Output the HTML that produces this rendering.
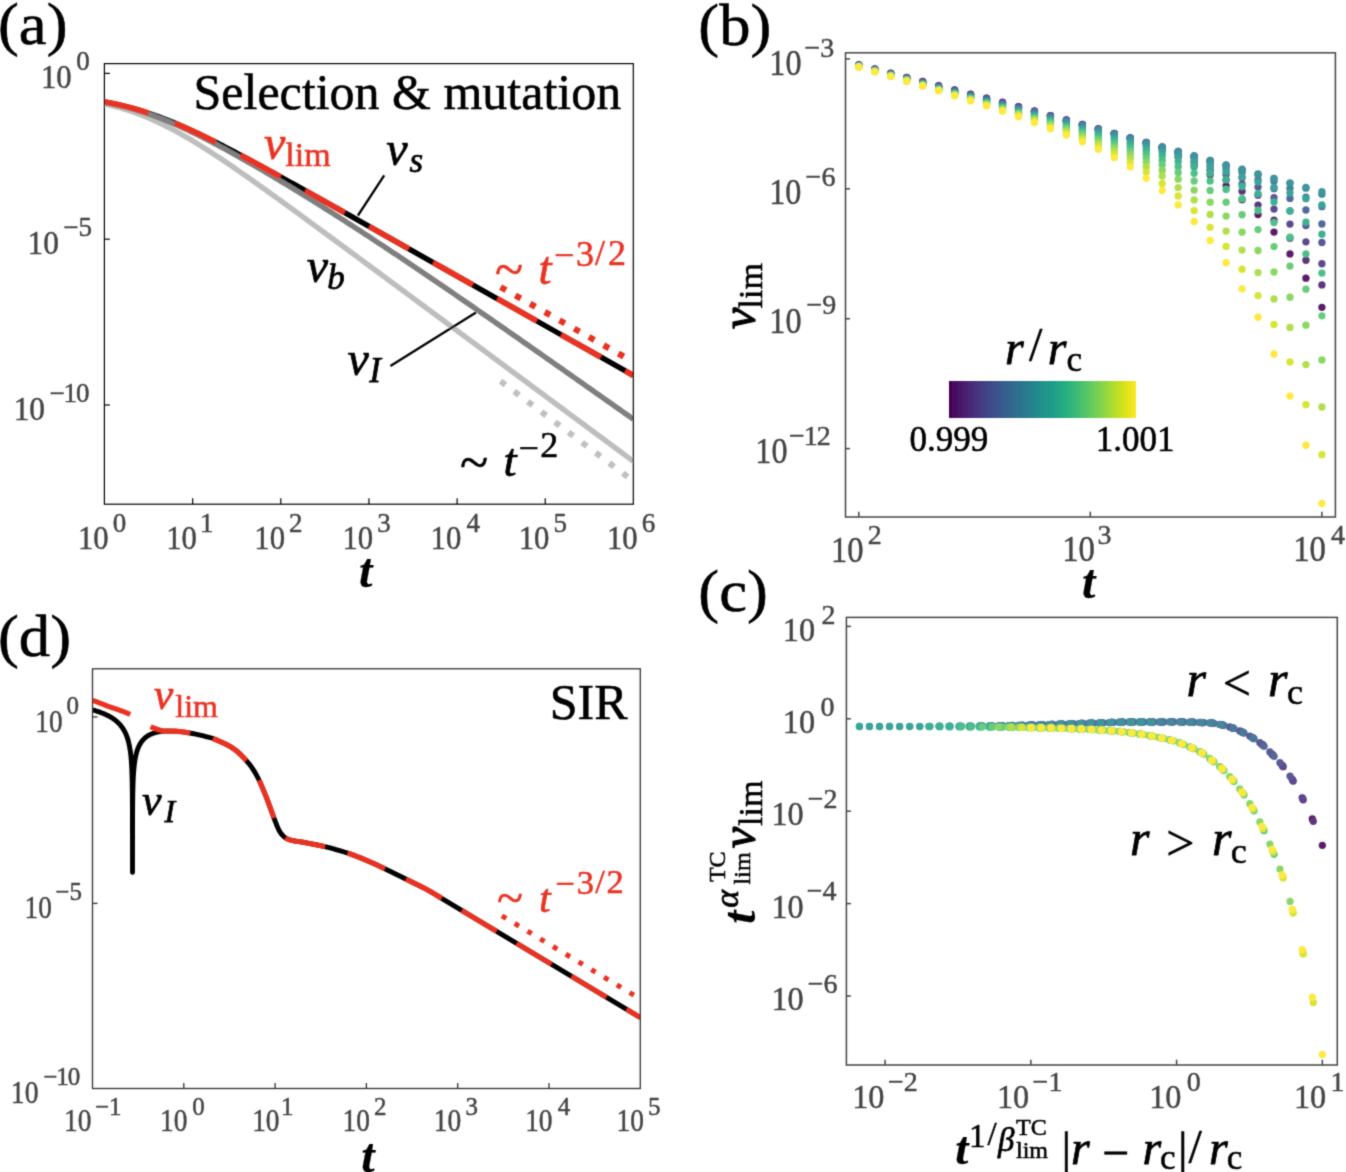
<!DOCTYPE html>
<html><head><meta charset="utf-8"><title>Figure</title>
<style>html,body{margin:0;padding:0;background:#fff;} svg{display:block;will-change:transform;} text{font-family:"Liberation Serif",serif;}</style>
</head><body>
<svg width="1346" height="1172" viewBox="0 0 1346 1172">
<defs><filter id="soft" x="0" y="0" width="100%" height="100%" filterUnits="userSpaceOnUse"><feConvolveMatrix order="3" kernelMatrix="0.0256 0.1088 0.0256 0.1088 0.4624 0.1088 0.0256 0.1088 0.0256" divisor="1" edgeMode="duplicate" preserveAlpha="false"/></filter></defs>
<rect width="1346" height="1172" fill="#fff"/>
<g filter="url(#soft)">
<defs><clipPath id="clipA"><rect x="104.4" y="63.6" width="528.9" height="440.6"/></clipPath></defs>
<g clip-path="url(#clipA)" fill="none" stroke-linejoin="round">
<path d="M104.4 103.81 L106.61 104.31 L108.83 104.84 L111.04 105.38 L113.25 105.94 L115.46 106.52 L117.68 107.13 L119.89 107.76 L122.1 108.41 L124.32 109.08 L126.53 109.78 L128.74 110.5 L130.96 111.24 L133.17 112.01 L135.38 112.8 L137.59 113.61 L139.81 114.45 L142.02 115.31 L144.23 116.19 L146.45 117.1 L148.66 118.03 L150.87 118.98 L153.09 119.96 L155.3 120.96 L157.51 121.98 L159.72 123.02 L161.94 124.09 L164.15 125.17 L166.36 126.28 L168.58 127.41 L170.79 128.56 L173 129.72 L175.22 130.91 L177.43 132.11 L179.64 133.34 L181.85 134.58 L184.07 135.83 L186.28 137.11 L188.49 138.4 L190.71 139.7 L192.92 141.02 L195.13 142.36 L197.34 143.71 L199.56 145.07 L201.77 146.45 L203.98 147.84 L206.2 149.24 L208.41 150.65 L210.62 152.07 L212.84 153.5 L215.05 154.95 L217.26 156.4 L219.47 157.86 L221.69 159.34 L223.9 160.82 L226.11 162.3 L228.33 163.8 L230.54 165.3 L232.75 166.81 L234.97 168.33 L237.18 169.85 L239.39 171.38 L241.6 172.92 L243.82 174.46 L246.03 176 L248.24 177.55 L250.46 179.11 L252.67 180.67 L254.88 182.23 L257.09 183.8 L259.31 185.37 L261.52 186.95 L263.73 188.53 L265.95 190.11 L268.16 191.7 L270.37 193.28 L272.59 194.88 L274.8 196.47 L277.01 198.07 L279.22 199.66 L281.44 201.26 L283.65 202.87 L285.86 204.47 L288.08 206.08 L290.29 207.69 L292.5 209.3 L294.72 210.91 L296.93 212.52 L299.14 214.14 L301.35 215.75 L303.57 217.37 L305.78 218.99 L307.99 220.61 L310.21 222.23 L312.42 223.85 L314.63 225.47 L316.85 227.1 L319.06 228.72 L321.27 230.35 L323.48 231.97 L325.7 233.6 L327.91 235.23 L330.12 236.86 L332.34 238.49 L334.55 240.11 L336.76 241.74 L338.97 243.38 L341.19 245.01 L343.4 246.64 L345.61 248.27 L347.83 249.9 L350.04 251.53 L352.25 253.17 L354.47 254.8 L356.68 256.43 L358.89 258.07 L361.1 259.7 L363.32 261.34 L365.53 262.97 L367.74 264.61 L369.96 266.24 L372.17 267.88 L374.38 269.51 L376.6 271.15 L378.81 272.78 L381.02 274.42 L383.23 276.06 L385.45 277.69 L387.66 279.33 L389.87 280.97 L392.09 282.6 L394.3 284.24 L396.51 285.88 L398.73 287.52 L400.94 289.15 L403.15 290.79 L405.36 292.43 L407.58 294.07 L409.79 295.7 L412 297.34 L414.22 298.98 L416.43 300.62 L418.64 302.25 L420.85 303.89 L423.07 305.53 L425.28 307.17 L427.49 308.81 L429.71 310.45 L431.92 312.08 L434.13 313.72 L436.35 315.36 L438.56 317 L440.77 318.64 L442.98 320.28 L445.2 321.92 L447.41 323.55 L449.62 325.19 L451.84 326.83 L454.05 328.47 L456.26 330.11 L458.48 331.75 L460.69 333.39 L462.9 335.02 L465.11 336.66 L467.33 338.3 L469.54 339.94 L471.75 341.58 L473.97 343.22 L476.18 344.86 L478.39 346.5 L480.61 348.14 L482.82 349.77 L485.03 351.41 L487.24 353.05 L489.46 354.69 L491.67 356.33 L493.88 357.97 L496.1 359.61 L498.31 361.25 L500.52 362.89 L502.73 364.53 L504.95 366.16 L507.16 367.8 L509.37 369.44 L511.59 371.08 L513.8 372.72 L516.01 374.36 L518.23 376 L520.44 377.64 L522.65 379.28 L524.86 380.92 L527.08 382.55 L529.29 384.19 L531.5 385.83 L533.72 387.47 L535.93 389.11 L538.14 390.75 L540.36 392.39 L542.57 394.03 L544.78 395.67 L546.99 397.31 L549.21 398.94 L551.42 400.58 L553.63 402.22 L555.85 403.86 L558.06 405.5 L560.27 407.14 L562.48 408.78 L564.7 410.42 L566.91 412.06 L569.12 413.7 L571.34 415.34 L573.55 416.97 L575.76 418.61 L577.98 420.25 L580.19 421.89 L582.4 423.53 L584.61 425.17 L586.83 426.81 L589.04 428.45 L591.25 430.09 L593.47 431.73 L595.68 433.37 L597.89 435.01 L600.11 436.64 L602.32 438.28 L604.53 439.92 L606.74 441.56 L608.96 443.2 L611.17 444.84 L613.38 446.48 L615.6 448.12 L617.81 449.76 L620.02 451.4 L622.24 453.04 L624.45 454.67 L626.66 456.31 L628.87 457.95 L631.09 459.59 L633.3 461.23" stroke="#bebebe" stroke-width="5.4"/>
<path d="M500.6 381.22 L632 480.08" stroke="#c0c0c0" stroke-width="6" stroke-dasharray="6 11"/>
<path d="M104.4 101.89 L106.61 102.3 L108.83 102.72 L111.04 103.15 L113.25 103.6 L115.46 104.07 L117.68 104.55 L119.89 105.06 L122.1 105.57 L124.32 106.11 L126.53 106.67 L128.74 107.24 L130.96 107.83 L133.17 108.44 L135.38 109.07 L137.59 109.71 L139.81 110.37 L142.02 111.05 L144.23 111.75 L146.45 112.47 L148.66 113.2 L150.87 113.95 L153.09 114.72 L155.3 115.51 L157.51 116.31 L159.72 117.13 L161.94 117.96 L164.15 118.81 L166.36 119.68 L168.58 120.56 L170.79 121.46 L173 122.37 L175.22 123.29 L177.43 124.23 L179.64 125.18 L181.85 126.15 L184.07 127.12 L186.28 128.11 L188.49 129.11 L190.71 130.12 L192.92 131.15 L195.13 132.18 L197.34 133.22 L199.56 134.28 L201.77 135.34 L203.98 136.41 L206.2 137.49 L208.41 138.58 L210.62 139.68 L212.84 140.78 L215.05 141.89 L217.26 143.01 L219.47 144.13 L221.69 145.26 L223.9 146.4 L226.11 147.54 L228.33 148.69 L230.54 149.85 L232.75 151 L234.97 152.17 L237.18 153.33 L239.39 154.51 L241.6 155.68 L243.82 156.86 L246.03 158.05 L248.24 159.23 L250.46 160.42 L252.67 161.62 L254.88 162.81 L257.09 164.01 L259.31 165.21 L261.52 166.42 L263.73 167.63 L265.95 168.83 L268.16 170.05 L270.37 171.26 L272.59 172.47 L274.8 173.69 L277.01 174.91 L279.22 176.13 L281.44 177.35 L283.65 178.58 L285.86 179.8 L288.08 181.03 L290.29 182.25 L292.5 183.48 L294.72 184.71 L296.93 185.94 L299.14 187.17 L301.35 188.41 L303.57 189.64 L305.78 190.88 L307.99 192.11 L310.21 193.35 L312.42 194.58 L314.63 195.82 L316.85 197.06 L319.06 198.3 L321.27 199.54 L323.48 200.78 L325.7 202.02 L327.91 203.26 L330.12 204.5 L332.34 205.74 L334.55 206.98 L336.76 208.22 L338.97 209.47 L341.19 210.71 L343.4 211.95 L345.61 213.2 L347.83 214.44 L350.04 215.68 L352.25 216.93 L354.47 218.17 L356.68 219.42 L358.89 220.66 L361.1 221.91 L363.32 223.15 L365.53 224.4 L367.74 225.65 L369.96 226.89 L372.17 228.14 L374.38 229.38 L376.6 230.63 L378.81 231.88 L381.02 233.12 L383.23 234.37 L385.45 235.62 L387.66 236.86 L389.87 238.11 L392.09 239.36 L394.3 240.61 L396.51 241.85 L398.73 243.1 L400.94 244.35 L403.15 245.6 L405.36 246.84 L407.58 248.09 L409.79 249.34 L412 250.59 L414.22 251.83 L416.43 253.08 L418.64 254.33 L420.85 255.58 L423.07 256.83 L425.28 258.07 L427.49 259.32 L429.71 260.57 L431.92 261.82 L434.13 263.07 L436.35 264.32 L438.56 265.56 L440.77 266.81 L442.98 268.06 L445.2 269.31 L447.41 270.56 L449.62 271.81 L451.84 273.05 L454.05 274.3 L456.26 275.55 L458.48 276.8 L460.69 278.05 L462.9 279.3 L465.11 280.54 L467.33 281.79 L469.54 283.04 L471.75 284.29 L473.97 285.54 L476.18 286.79 L478.39 288.04 L480.61 289.28 L482.82 290.53 L485.03 291.78 L487.24 293.03 L489.46 294.28 L491.67 295.53 L493.88 296.78 L496.1 298.02 L498.31 299.27 L500.52 300.52 L502.73 301.77 L504.95 303.02 L507.16 304.27 L509.37 305.52 L511.59 306.76 L513.8 308.01 L516.01 309.26 L518.23 310.51 L520.44 311.76 L522.65 313.01 L524.86 314.26 L527.08 315.5 L529.29 316.75 L531.5 318 L533.72 319.25 L535.93 320.5 L538.14 321.75 L540.36 323 L542.57 324.25 L544.78 325.49 L546.99 326.74 L549.21 327.99 L551.42 329.24 L553.63 330.49 L555.85 331.74 L558.06 332.99 L560.27 334.23 L562.48 335.48 L564.7 336.73 L566.91 337.98 L569.12 339.23 L571.34 340.48 L573.55 341.73 L575.76 342.98 L577.98 344.22 L580.19 345.47 L582.4 346.72 L584.61 347.97 L586.83 349.22 L589.04 350.47 L591.25 351.72 L593.47 352.97 L595.68 354.21 L597.89 355.46 L600.11 356.71 L602.32 357.96 L604.53 359.21 L606.74 360.46 L608.96 361.71 L611.17 362.95 L613.38 364.2 L615.6 365.45 L617.81 366.7 L620.02 367.95 L622.24 369.2 L624.45 370.45 L626.66 371.7 L628.87 372.94 L631.09 374.19 L633.3 375.44" stroke="#000" stroke-width="5.4"/>
<path d="M104.4 102.31 L106.61 102.73 L108.83 103.16 L111.04 103.61 L113.25 104.07 L115.46 104.55 L117.68 105.05 L119.89 105.57 L122.1 106.11 L124.32 106.66 L126.53 107.23 L128.74 107.82 L130.96 108.43 L133.17 109.06 L135.38 109.71 L137.59 110.37 L139.81 111.05 L142.02 111.75 L144.23 112.47 L146.45 113.21 L148.66 113.97 L150.87 114.74 L153.09 115.54 L155.3 116.35 L157.51 117.17 L159.72 118.02 L161.94 118.88 L164.15 119.76 L166.36 120.65 L168.58 121.57 L170.79 122.49 L173 123.43 L175.22 124.39 L177.43 125.36 L179.64 126.35 L181.85 127.35 L184.07 128.36 L186.28 129.39 L188.49 130.42 L190.71 131.47 L192.92 132.54 L195.13 133.61 L197.34 134.7 L199.56 135.79 L201.77 136.9 L203.98 138.02 L206.2 139.15 L208.41 140.28 L210.62 141.43 L212.84 142.58 L215.05 143.75 L217.26 144.92 L219.47 146.1 L221.69 147.29 L223.9 148.48 L226.11 149.68 L228.33 150.89 L230.54 152.11 L232.75 153.33 L234.97 154.56 L237.18 155.8 L239.39 157.04 L241.6 158.28 L243.82 159.54 L246.03 160.79 L248.24 162.06 L250.46 163.33 L252.67 164.6 L254.88 165.88 L257.09 167.16 L259.31 168.45 L261.52 169.74 L263.73 171.04 L265.95 172.34 L268.16 173.64 L270.37 174.95 L272.59 176.26 L274.8 177.58 L277.01 178.9 L279.22 180.23 L281.44 181.56 L283.65 182.89 L285.86 184.22 L288.08 185.56 L290.29 186.91 L292.5 188.25 L294.72 189.6 L296.93 190.96 L299.14 192.31 L301.35 193.67 L303.57 195.04 L305.78 196.4 L307.99 197.77 L310.21 199.14 L312.42 200.52 L314.63 201.9 L316.85 203.28 L319.06 204.67 L321.27 206.06 L323.48 207.45 L325.7 208.84 L327.91 210.24 L330.12 211.64 L332.34 213.04 L334.55 214.45 L336.76 215.86 L338.97 217.27 L341.19 218.68 L343.4 220.1 L345.61 221.52 L347.83 222.94 L350.04 224.37 L352.25 225.8 L354.47 227.23 L356.68 228.66 L358.89 230.1 L361.1 231.53 L363.32 232.97 L365.53 234.42 L367.74 235.86 L369.96 237.31 L372.17 238.76 L374.38 240.22 L376.6 241.67 L378.81 243.13 L381.02 244.59 L383.23 246.05 L385.45 247.52 L387.66 248.98 L389.87 250.45 L392.09 251.92 L394.3 253.4 L396.51 254.87 L398.73 256.35 L400.94 257.83 L403.15 259.31 L405.36 260.8 L407.58 262.28 L409.79 263.77 L412 265.26 L414.22 266.75 L416.43 268.24 L418.64 269.74 L420.85 271.23 L423.07 272.73 L425.28 274.23 L427.49 275.73 L429.71 277.23 L431.92 278.74 L434.13 280.24 L436.35 281.75 L438.56 283.26 L440.77 284.77 L442.98 286.28 L445.2 287.8 L447.41 289.31 L449.62 290.83 L451.84 292.34 L454.05 293.86 L456.26 295.38 L458.48 296.9 L460.69 298.43 L462.9 299.95 L465.11 301.47 L467.33 303 L469.54 304.52 L471.75 306.05 L473.97 307.58 L476.18 309.11 L478.39 310.64 L480.61 312.17 L482.82 313.71 L485.03 315.24 L487.24 316.77 L489.46 318.31 L491.67 319.84 L493.88 321.38 L496.1 322.92 L498.31 324.46 L500.52 326 L502.73 327.54 L504.95 329.08 L507.16 330.62 L509.37 332.16 L511.59 333.7 L513.8 335.25 L516.01 336.79 L518.23 338.33 L520.44 339.88 L522.65 341.43 L524.86 342.97 L527.08 344.52 L529.29 346.07 L531.5 347.61 L533.72 349.16 L535.93 350.71 L538.14 352.26 L540.36 353.81 L542.57 355.36 L544.78 356.91 L546.99 358.46 L549.21 360.01 L551.42 361.57 L553.63 363.12 L555.85 364.67 L558.06 366.22 L560.27 367.78 L562.48 369.33 L564.7 370.88 L566.91 372.44 L569.12 373.99 L571.34 375.55 L573.55 377.1 L575.76 378.66 L577.98 380.22 L580.19 381.77 L582.4 383.33 L584.61 384.89 L586.83 386.44 L589.04 388 L591.25 389.56 L593.47 391.11 L595.68 392.67 L597.89 394.23 L600.11 395.79 L602.32 397.35 L604.53 398.91 L606.74 400.46 L608.96 402.02 L611.17 403.58 L613.38 405.14 L615.6 406.7 L617.81 408.26 L620.02 409.82 L622.24 411.38 L624.45 412.94 L626.66 414.5 L628.87 416.06 L631.09 417.62 L633.3 419.18" stroke="#7f7f7f" stroke-width="5.4"/>
<path d="M104.4 101.89 L106.61 102.3 L108.83 102.72 L111.04 103.15 L113.25 103.6 L115.46 104.07 L117.68 104.55 L119.89 105.06 L122.1 105.57 L124.32 106.11 L126.53 106.67 L128.74 107.24 L130.96 107.83 L133.17 108.44 L135.38 109.07 L137.59 109.71 L139.81 110.37 L142.02 111.05 L144.23 111.75 L146.45 112.47 L148.66 113.2 L150.87 113.95 L153.09 114.72 L155.3 115.51 L157.51 116.31 L159.72 117.13 L161.94 117.96 L164.15 118.81 L166.36 119.68 L168.58 120.56 L170.79 121.46 L173 122.37 L175.22 123.29 L177.43 124.23 L179.64 125.18 L181.85 126.15 L184.07 127.12 L186.28 128.11 L188.49 129.11 L190.71 130.12 L192.92 131.15 L195.13 132.18 L197.34 133.22 L199.56 134.28 L201.77 135.34 L203.98 136.41 L206.2 137.49 L208.41 138.58 L210.62 139.68 L212.84 140.78 L215.05 141.89 L217.26 143.01 L219.47 144.13 L221.69 145.26 L223.9 146.4 L226.11 147.54 L228.33 148.69 L230.54 149.85 L232.75 151 L234.97 152.17 L237.18 153.33 L239.39 154.51 L241.6 155.68 L243.82 156.86 L246.03 158.05 L248.24 159.23 L250.46 160.42 L252.67 161.62 L254.88 162.81 L257.09 164.01 L259.31 165.21 L261.52 166.42 L263.73 167.63 L265.95 168.83 L268.16 170.05 L270.37 171.26 L272.59 172.47 L274.8 173.69 L277.01 174.91 L279.22 176.13 L281.44 177.35 L283.65 178.58 L285.86 179.8 L288.08 181.03 L290.29 182.25 L292.5 183.48 L294.72 184.71 L296.93 185.94 L299.14 187.17 L301.35 188.41 L303.57 189.64 L305.78 190.88 L307.99 192.11 L310.21 193.35 L312.42 194.58 L314.63 195.82 L316.85 197.06 L319.06 198.3 L321.27 199.54 L323.48 200.78 L325.7 202.02 L327.91 203.26 L330.12 204.5 L332.34 205.74 L334.55 206.98 L336.76 208.22 L338.97 209.47 L341.19 210.71 L343.4 211.95 L345.61 213.2 L347.83 214.44 L350.04 215.68 L352.25 216.93 L354.47 218.17 L356.68 219.42 L358.89 220.66 L361.1 221.91 L363.32 223.15 L365.53 224.4 L367.74 225.65 L369.96 226.89 L372.17 228.14 L374.38 229.38 L376.6 230.63 L378.81 231.88 L381.02 233.12 L383.23 234.37 L385.45 235.62 L387.66 236.86 L389.87 238.11 L392.09 239.36 L394.3 240.61 L396.51 241.85 L398.73 243.1 L400.94 244.35 L403.15 245.6 L405.36 246.84 L407.58 248.09 L409.79 249.34 L412 250.59 L414.22 251.83 L416.43 253.08 L418.64 254.33 L420.85 255.58 L423.07 256.83 L425.28 258.07 L427.49 259.32 L429.71 260.57 L431.92 261.82 L434.13 263.07 L436.35 264.32 L438.56 265.56 L440.77 266.81 L442.98 268.06 L445.2 269.31 L447.41 270.56 L449.62 271.81 L451.84 273.05 L454.05 274.3 L456.26 275.55 L458.48 276.8 L460.69 278.05 L462.9 279.3 L465.11 280.54 L467.33 281.79 L469.54 283.04 L471.75 284.29 L473.97 285.54 L476.18 286.79 L478.39 288.04 L480.61 289.28 L482.82 290.53 L485.03 291.78 L487.24 293.03 L489.46 294.28 L491.67 295.53 L493.88 296.78 L496.1 298.02 L498.31 299.27 L500.52 300.52 L502.73 301.77 L504.95 303.02 L507.16 304.27 L509.37 305.52 L511.59 306.76 L513.8 308.01 L516.01 309.26 L518.23 310.51 L520.44 311.76 L522.65 313.01 L524.86 314.26 L527.08 315.5 L529.29 316.75 L531.5 318 L533.72 319.25 L535.93 320.5 L538.14 321.75 L540.36 323 L542.57 324.25 L544.78 325.49 L546.99 326.74 L549.21 327.99 L551.42 329.24 L553.63 330.49 L555.85 331.74 L558.06 332.99 L560.27 334.23 L562.48 335.48 L564.7 336.73 L566.91 337.98 L569.12 339.23 L571.34 340.48 L573.55 341.73 L575.76 342.98 L577.98 344.22 L580.19 345.47 L582.4 346.72 L584.61 347.97 L586.83 349.22 L589.04 350.47 L591.25 351.72 L593.47 352.97 L595.68 354.21 L597.89 355.46 L600.11 356.71 L602.32 357.96 L604.53 359.21 L606.74 360.46 L608.96 361.71 L611.17 362.95 L613.38 364.2 L615.6 365.45 L617.81 366.7 L620.02 367.95 L622.24 369.2 L624.45 370.45 L626.66 371.7 L628.87 372.94 L631.09 374.19 L633.3 375.44" stroke="#ea3324" stroke-width="5.6" stroke-dasharray="45.3 28.2"/>
<path d="M500.6 287.09 L632 361.23" stroke="#ea3324" stroke-width="6.2" stroke-dasharray="6.2 10.7"/>
</g>
<rect x="104.4" y="63.6" width="528.9" height="440.6" fill="none" stroke="#000" stroke-width="1.2"/>
<line x1="104.4" y1="73.4" x2="109.9" y2="73.4" stroke="#000" stroke-width="1.2"/>
<line x1="104.4" y1="239.2" x2="109.9" y2="239.2" stroke="#000" stroke-width="1.2"/>
<line x1="104.4" y1="405" x2="109.9" y2="405" stroke="#000" stroke-width="1.2"/>
<line x1="192.65" y1="504.2" x2="192.65" y2="498.2" stroke="#000" stroke-width="1.2"/>
<line x1="280.8" y1="504.2" x2="280.8" y2="498.2" stroke="#000" stroke-width="1.2"/>
<line x1="368.95" y1="504.2" x2="368.95" y2="498.2" stroke="#000" stroke-width="1.2"/>
<line x1="457.1" y1="504.2" x2="457.1" y2="498.2" stroke="#000" stroke-width="1.2"/>
<line x1="545.25" y1="504.2" x2="545.25" y2="498.2" stroke="#000" stroke-width="1.2"/>
<line x1="384.2" y1="175.4" x2="357.9" y2="215.5" stroke="#000" stroke-width="2.3"/>
<line x1="390.4" y1="366" x2="476" y2="312.5" stroke="#000" stroke-width="2.3"/>
<text x="-3" y="0" font-size="33" fill="#444444" stroke="#444444" stroke-width="0.45" stroke-linejoin="round" transform="translate(43.7 88.2) scale(0.9310 1)">10</text>
<text x="76.2" y="69.8" font-size="27" fill="#444444" stroke="#444444" stroke-width="0.45" stroke-linejoin="round">0</text>
<text x="-3" y="0" font-size="33" fill="#444444" stroke="#444444" stroke-width="0.45" stroke-linejoin="round" transform="translate(30.3 253.9) scale(0.9517 1)">10</text>
<text x="63.2" y="235.9" font-size="27" fill="#444444" stroke="#444444" stroke-width="0.45" stroke-linejoin="round">−5</text>
<text x="-3" y="0" font-size="33" fill="#444444" stroke="#444444" stroke-width="0.45" stroke-linejoin="round" transform="translate(16.5 419.9) scale(0.9517 1)">10</text>
<text x="49.4" y="401.6" font-size="27" fill="#444444" letter-spacing="-1" stroke="#444444" stroke-width="0.45" stroke-linejoin="round">−10</text>
<text x="-3" y="0" font-size="33" fill="#444444" stroke="#444444" stroke-width="0.45" stroke-linejoin="round" transform="translate(80.8 548.9) scale(0.9310 1)">10</text>
<text x="112.8" y="531.7" font-size="27" fill="#444444" stroke="#444444" stroke-width="0.45" stroke-linejoin="round">0</text>
<text x="-3" y="0" font-size="33" fill="#444444" stroke="#444444" stroke-width="0.45" stroke-linejoin="round" transform="translate(168.95 548.9) scale(0.9310 1)">10</text>
<text x="199.95" y="531.7" font-size="27" fill="#444444" stroke="#444444" stroke-width="0.45" stroke-linejoin="round">1</text>
<text x="-3" y="0" font-size="33" fill="#444444" stroke="#444444" stroke-width="0.45" stroke-linejoin="round" transform="translate(257.1 548.9) scale(0.9310 1)">10</text>
<text x="289.1" y="531.7" font-size="27" fill="#444444" stroke="#444444" stroke-width="0.45" stroke-linejoin="round">2</text>
<text x="-3" y="0" font-size="33" fill="#444444" stroke="#444444" stroke-width="0.45" stroke-linejoin="round" transform="translate(345.25 548.9) scale(0.9310 1)">10</text>
<text x="377.25" y="531.7" font-size="27" fill="#444444" stroke="#444444" stroke-width="0.45" stroke-linejoin="round">3</text>
<text x="-3" y="0" font-size="33" fill="#444444" stroke="#444444" stroke-width="0.45" stroke-linejoin="round" transform="translate(433.4 548.9) scale(0.9310 1)">10</text>
<text x="466.4" y="531.7" font-size="27" fill="#444444" stroke="#444444" stroke-width="0.45" stroke-linejoin="round">4</text>
<text x="-3" y="0" font-size="33" fill="#444444" stroke="#444444" stroke-width="0.45" stroke-linejoin="round" transform="translate(521.55 548.9) scale(0.9310 1)">10</text>
<text x="553.55" y="531.7" font-size="27" fill="#444444" stroke="#444444" stroke-width="0.45" stroke-linejoin="round">5</text>
<text x="-3" y="0" font-size="33" fill="#444444" stroke="#444444" stroke-width="0.45" stroke-linejoin="round" transform="translate(609.7 548.9) scale(0.9310 1)">10</text>
<text x="641.7" y="531.7" font-size="27" fill="#444444" stroke="#444444" stroke-width="0.45" stroke-linejoin="round">6</text>
<text x="359" y="586.9" font-size="48" font-style="italic" font-weight="bold" fill="#000" stroke="#000" stroke-width="0.25" stroke-linejoin="round">t</text>
<text x="-2" y="0" font-size="60" fill="#000" stroke="#000" stroke-width="0.55" stroke-linejoin="round" transform="translate(0 44.3) scale(1.0452 1)">(a)</text>
<text x="193.5" y="108.5" font-size="50" fill="#000" stroke="#000" stroke-width="0.55" stroke-linejoin="round">Selection &amp; mutation</text>
<text x="264.1" y="159.4" font-size="48" font-style="italic" fill="#ea3324" stroke="#ea3324" stroke-width="0.75" stroke-linejoin="round">v</text>
<text x="285.3" y="165.8" font-size="34" fill="#ea3324" stroke="#ea3324" stroke-width="0.55" stroke-linejoin="round">lim</text>
<text x="386.2" y="165.1" font-size="48" font-style="italic" fill="#000" stroke="#000" stroke-width="0.75" stroke-linejoin="round">v</text>
<text x="409.5" y="171.8" font-size="35" font-style="italic" fill="#000" stroke="#000" stroke-width="0.75" stroke-linejoin="round">s</text>
<text x="306.7" y="282.4" font-size="48" font-style="italic" fill="#000" stroke="#000" stroke-width="0.75" stroke-linejoin="round">v</text>
<text x="327.2" y="289.3" font-size="35" font-style="italic" fill="#000" stroke="#000" stroke-width="0.75" stroke-linejoin="round">b</text>
<text x="347.6" y="374.9" font-size="48" font-style="italic" fill="#000" stroke="#000" stroke-width="0.75" stroke-linejoin="round">v</text>
<text x="369.2" y="381.8" font-size="35" font-style="italic" fill="#000" stroke="#000" stroke-width="0.75" stroke-linejoin="round">I</text>
<text x="495" y="287.1" font-size="52" fill="#ea3324" stroke="#ea3324" stroke-width="0.55" stroke-linejoin="round">~</text>
<text x="538.6" y="283.5" font-size="47" font-style="italic" fill="#ea3324" stroke="#ea3324" stroke-width="0.75" stroke-linejoin="round">t</text>
<text x="554.1" y="266.8" font-size="36" fill="#ea3324" stroke="#ea3324" stroke-width="0.55" stroke-linejoin="round">−</text>
<text x="575.9" y="265.5" font-size="36" fill="#ea3324" stroke="#ea3324" stroke-width="0.55" stroke-linejoin="round">3</text>
<text x="595" y="265" font-size="36" fill="#ea3324" stroke="#ea3324" stroke-width="0.55" stroke-linejoin="round">/</text>
<text x="608" y="264.9" font-size="36" fill="#ea3324" stroke="#ea3324" stroke-width="0.55" stroke-linejoin="round">2</text>
<text x="460.1" y="479.7" font-size="52" fill="#000" stroke="#000" stroke-width="0.55" stroke-linejoin="round">~</text>
<text x="503.5" y="475.5" font-size="47" font-style="italic" fill="#000" stroke="#000" stroke-width="0.75" stroke-linejoin="round">t</text>
<text x="518.5" y="460" font-size="36" fill="#000" stroke="#000" stroke-width="0.55" stroke-linejoin="round">−</text>
<text x="540.3" y="456.7" font-size="36" fill="#000" stroke="#000" stroke-width="0.55" stroke-linejoin="round">2</text>
<defs><clipPath id="clipB"><rect x="845.5" y="52.8" width="489.9" height="464.2"/></clipPath></defs>
<g clip-path="url(#clipB)">
<g fill="#5a1f69"><circle cx="858.8" cy="64.75" r="3.65"/><circle cx="874.77" cy="69" r="3.65"/><circle cx="890.74" cy="73.22" r="3.65"/><circle cx="906.71" cy="77.39" r="3.65"/><circle cx="922.68" cy="81.51" r="3.65"/><circle cx="938.64" cy="85.69" r="3.65"/><circle cx="954.61" cy="89.91" r="3.65"/><circle cx="970.58" cy="94.07" r="3.65"/><circle cx="986.55" cy="98.18" r="3.65"/><circle cx="1002.52" cy="102.24" r="3.65"/><circle cx="1018.49" cy="106.7" r="3.65"/><circle cx="1034.46" cy="111.14" r="3.65"/><circle cx="1050.43" cy="115.59" r="3.65"/><circle cx="1066.4" cy="120.02" r="3.65"/><circle cx="1082.37" cy="124.45" r="3.65"/><circle cx="1098.33" cy="129.02" r="3.65"/><circle cx="1114.3" cy="133.77" r="3.65"/><circle cx="1130.27" cy="138.56" r="3.65"/><circle cx="1146.24" cy="143.46" r="3.65"/><circle cx="1162.21" cy="149.65" r="3.65"/><circle cx="1178.18" cy="156.77" r="3.65"/><circle cx="1194.15" cy="165.33" r="3.65"/><circle cx="1210.12" cy="174.82" r="3.65"/><circle cx="1226.09" cy="185.81" r="3.65"/><circle cx="1242.06" cy="199.67" r="3.65"/><circle cx="1258.02" cy="214.5" r="3.65"/><circle cx="1273.99" cy="232.12" r="3.65"/><circle cx="1289.96" cy="253.92" r="3.65"/><circle cx="1305.93" cy="278.2" r="3.65"/><circle cx="1321.9" cy="307.36" r="3.65"/></g>
<g fill="#5e357e"><circle cx="858.8" cy="64.98" r="3.65"/><circle cx="874.77" cy="69.2" r="3.65"/><circle cx="890.74" cy="73.46" r="3.65"/><circle cx="906.71" cy="77.67" r="3.65"/><circle cx="922.68" cy="81.84" r="3.65"/><circle cx="938.64" cy="85.95" r="3.65"/><circle cx="954.61" cy="90.15" r="3.65"/><circle cx="970.58" cy="94.36" r="3.65"/><circle cx="986.55" cy="98.52" r="3.65"/><circle cx="1002.52" cy="102.62" r="3.65"/><circle cx="1018.49" cy="106.72" r="3.65"/><circle cx="1034.46" cy="111.17" r="3.65"/><circle cx="1050.43" cy="115.62" r="3.65"/><circle cx="1066.4" cy="120.06" r="3.65"/><circle cx="1082.37" cy="124.5" r="3.65"/><circle cx="1098.33" cy="128.93" r="3.65"/><circle cx="1114.3" cy="133.53" r="3.65"/><circle cx="1130.27" cy="138.27" r="3.65"/><circle cx="1146.24" cy="143.07" r="3.65"/><circle cx="1162.21" cy="148.09" r="3.65"/><circle cx="1178.18" cy="154.37" r="3.65"/><circle cx="1194.15" cy="161.63" r="3.65"/><circle cx="1210.12" cy="170.27" r="3.65"/><circle cx="1226.09" cy="179.89" r="3.65"/><circle cx="1242.06" cy="191.16" r="3.65"/><circle cx="1258.02" cy="205.1" r="3.65"/><circle cx="1273.99" cy="220.19" r="3.65"/><circle cx="1289.96" cy="238.19" r="3.65"/><circle cx="1305.93" cy="260.24" r="3.65"/><circle cx="1321.9" cy="284.88" r="3.65"/></g>
<g fill="#5d488d"><circle cx="858.8" cy="65.21" r="3.65"/><circle cx="874.77" cy="69.47" r="3.65"/><circle cx="890.74" cy="73.69" r="3.65"/><circle cx="906.71" cy="77.95" r="3.65"/><circle cx="922.68" cy="82.16" r="3.65"/><circle cx="938.64" cy="86.33" r="3.65"/><circle cx="954.61" cy="90.45" r="3.65"/><circle cx="970.58" cy="94.64" r="3.65"/><circle cx="986.55" cy="98.85" r="3.65"/><circle cx="1002.52" cy="103.02" r="3.65"/><circle cx="1018.49" cy="107.12" r="3.65"/><circle cx="1034.46" cy="111.2" r="3.65"/><circle cx="1050.43" cy="115.65" r="3.65"/><circle cx="1066.4" cy="120.1" r="3.65"/><circle cx="1082.37" cy="124.54" r="3.65"/><circle cx="1098.33" cy="128.98" r="3.65"/><circle cx="1114.3" cy="133.41" r="3.65"/><circle cx="1130.27" cy="137.99" r="3.65"/><circle cx="1146.24" cy="142.74" r="3.65"/><circle cx="1162.21" cy="147.53" r="3.65"/><circle cx="1178.18" cy="152.49" r="3.65"/><circle cx="1194.15" cy="158.72" r="3.65"/><circle cx="1210.12" cy="165.91" r="3.65"/><circle cx="1226.09" cy="174.5" r="3.65"/><circle cx="1242.06" cy="184.06" r="3.65"/><circle cx="1258.02" cy="195.18" r="3.65"/><circle cx="1273.99" cy="209.07" r="3.65"/><circle cx="1289.96" cy="224.03" r="3.65"/><circle cx="1305.93" cy="241.83" r="3.65"/><circle cx="1321.9" cy="263.76" r="3.65"/></g>
<g fill="#585a95"><circle cx="858.8" cy="65.44" r="3.65"/><circle cx="874.77" cy="69.74" r="3.65"/><circle cx="890.74" cy="74.01" r="3.65"/><circle cx="906.71" cy="78.24" r="3.65"/><circle cx="922.68" cy="82.49" r="3.65"/><circle cx="938.64" cy="86.72" r="3.65"/><circle cx="954.61" cy="90.9" r="3.65"/><circle cx="970.58" cy="95.03" r="3.65"/><circle cx="986.55" cy="99.18" r="3.65"/><circle cx="1002.52" cy="103.41" r="3.65"/><circle cx="1018.49" cy="107.58" r="3.65"/><circle cx="1034.46" cy="111.71" r="3.65"/><circle cx="1050.43" cy="115.77" r="3.65"/><circle cx="1066.4" cy="120.14" r="3.65"/><circle cx="1082.37" cy="124.59" r="3.65"/><circle cx="1098.33" cy="129.03" r="3.65"/><circle cx="1114.3" cy="133.47" r="3.65"/><circle cx="1130.27" cy="137.9" r="3.65"/><circle cx="1146.24" cy="142.41" r="3.65"/><circle cx="1162.21" cy="147.14" r="3.65"/><circle cx="1178.18" cy="151.92" r="3.65"/><circle cx="1194.15" cy="156.75" r="3.65"/><circle cx="1210.12" cy="162.67" r="3.65"/><circle cx="1226.09" cy="169.57" r="3.65"/><circle cx="1242.06" cy="177.82" r="3.65"/><circle cx="1258.02" cy="187.09" r="3.65"/><circle cx="1273.99" cy="197.69" r="3.65"/><circle cx="1289.96" cy="210.96" r="3.65"/><circle cx="1305.93" cy="225.53" r="3.65"/><circle cx="1321.9" cy="242.52" r="3.65"/></g>
<g fill="#516a9a"><circle cx="858.8" cy="65.65" r="3.65"/><circle cx="874.77" cy="70.01" r="3.65"/><circle cx="890.74" cy="74.33" r="3.65"/><circle cx="906.71" cy="78.61" r="3.65"/><circle cx="922.68" cy="82.87" r="3.65"/><circle cx="938.64" cy="87.1" r="3.65"/><circle cx="954.61" cy="91.35" r="3.65"/><circle cx="970.58" cy="95.56" r="3.65"/><circle cx="986.55" cy="99.72" r="3.65"/><circle cx="1002.52" cy="103.83" r="3.65"/><circle cx="1018.49" cy="108.04" r="3.65"/><circle cx="1034.46" cy="112.24" r="3.65"/><circle cx="1050.43" cy="116.4" r="3.65"/><circle cx="1066.4" cy="120.5" r="3.65"/><circle cx="1082.37" cy="124.64" r="3.65"/><circle cx="1098.33" cy="129.09" r="3.65"/><circle cx="1114.3" cy="133.53" r="3.65"/><circle cx="1130.27" cy="137.98" r="3.65"/><circle cx="1146.24" cy="142.41" r="3.65"/><circle cx="1162.21" cy="146.84" r="3.65"/><circle cx="1178.18" cy="151.47" r="3.65"/><circle cx="1194.15" cy="156.22" r="3.65"/><circle cx="1210.12" cy="161.02" r="3.65"/><circle cx="1226.09" cy="166.17" r="3.65"/><circle cx="1242.06" cy="172.54" r="3.65"/><circle cx="1258.02" cy="179.93" r="3.65"/><circle cx="1273.99" cy="188.66" r="3.65"/><circle cx="1289.96" cy="198.43" r="3.65"/><circle cx="1305.93" cy="209.98" r="3.65"/><circle cx="1321.9" cy="224.01" r="3.65"/></g>
<g fill="#4a7a9c"><circle cx="858.8" cy="65.79" r="3.65"/><circle cx="874.77" cy="70.21" r="3.65"/><circle cx="890.74" cy="74.62" r="3.65"/><circle cx="906.71" cy="78.99" r="3.65"/><circle cx="922.68" cy="83.31" r="3.65"/><circle cx="938.64" cy="87.6" r="3.65"/><circle cx="954.61" cy="91.86" r="3.65"/><circle cx="970.58" cy="96.08" r="3.65"/><circle cx="986.55" cy="100.34" r="3.65"/><circle cx="1002.52" cy="104.55" r="3.65"/><circle cx="1018.49" cy="108.72" r="3.65"/><circle cx="1034.46" cy="112.83" r="3.65"/><circle cx="1050.43" cy="117.03" r="3.65"/><circle cx="1066.4" cy="121.24" r="3.65"/><circle cx="1082.37" cy="125.4" r="3.65"/><circle cx="1098.33" cy="129.51" r="3.65"/><circle cx="1114.3" cy="133.6" r="3.65"/><circle cx="1130.27" cy="138.05" r="3.65"/><circle cx="1146.24" cy="142.5" r="3.65"/><circle cx="1162.21" cy="146.94" r="3.65"/><circle cx="1178.18" cy="151.38" r="3.65"/><circle cx="1194.15" cy="155.8" r="3.65"/><circle cx="1210.12" cy="160.4" r="3.65"/><circle cx="1226.09" cy="165.15" r="3.65"/><circle cx="1242.06" cy="169.94" r="3.65"/><circle cx="1258.02" cy="174.94" r="3.65"/><circle cx="1273.99" cy="181.2" r="3.65"/><circle cx="1289.96" cy="188.44" r="3.65"/><circle cx="1305.93" cy="197.06" r="3.65"/><circle cx="1321.9" cy="206.67" r="3.65"/></g>
<g fill="#44889c"><circle cx="858.8" cy="65.94" r="3.65"/><circle cx="874.77" cy="70.38" r="3.65"/><circle cx="890.74" cy="74.81" r="3.65"/><circle cx="906.71" cy="79.24" r="3.65"/><circle cx="922.68" cy="83.66" r="3.65"/><circle cx="938.64" cy="88.07" r="3.65"/><circle cx="954.61" cy="92.46" r="3.65"/><circle cx="970.58" cy="96.78" r="3.65"/><circle cx="986.55" cy="101.08" r="3.65"/><circle cx="1002.52" cy="105.34" r="3.65"/><circle cx="1018.49" cy="109.58" r="3.65"/><circle cx="1034.46" cy="113.83" r="3.65"/><circle cx="1050.43" cy="118.05" r="3.65"/><circle cx="1066.4" cy="122.23" r="3.65"/><circle cx="1082.37" cy="126.36" r="3.65"/><circle cx="1098.33" cy="130.52" r="3.65"/><circle cx="1114.3" cy="134.74" r="3.65"/><circle cx="1130.27" cy="138.91" r="3.65"/><circle cx="1146.24" cy="143.03" r="3.65"/><circle cx="1162.21" cy="147.09" r="3.65"/><circle cx="1178.18" cy="151.49" r="3.65"/><circle cx="1194.15" cy="155.94" r="3.65"/><circle cx="1210.12" cy="160.39" r="3.65"/><circle cx="1226.09" cy="164.82" r="3.65"/><circle cx="1242.06" cy="169.25" r="3.65"/><circle cx="1258.02" cy="173.78" r="3.65"/><circle cx="1273.99" cy="178.52" r="3.65"/><circle cx="1289.96" cy="183.3" r="3.65"/><circle cx="1305.93" cy="188.14" r="3.65"/><circle cx="1321.9" cy="194.17" r="3.65"/></g>
<g fill="#3d969c"><circle cx="858.8" cy="66.04" r="3.65"/><circle cx="874.77" cy="70.52" r="3.65"/><circle cx="890.74" cy="75" r="3.65"/><circle cx="906.71" cy="79.47" r="3.65"/><circle cx="922.68" cy="83.93" r="3.65"/><circle cx="938.64" cy="88.39" r="3.65"/><circle cx="954.61" cy="92.84" r="3.65"/><circle cx="970.58" cy="97.29" r="3.65"/><circle cx="986.55" cy="101.73" r="3.65"/><circle cx="1002.52" cy="106.17" r="3.65"/><circle cx="1018.49" cy="110.59" r="3.65"/><circle cx="1034.46" cy="115.01" r="3.65"/><circle cx="1050.43" cy="119.42" r="3.65"/><circle cx="1066.4" cy="123.8" r="3.65"/><circle cx="1082.37" cy="128.12" r="3.65"/><circle cx="1098.33" cy="132.42" r="3.65"/><circle cx="1114.3" cy="136.68" r="3.65"/><circle cx="1130.27" cy="140.91" r="3.65"/><circle cx="1146.24" cy="145.16" r="3.65"/><circle cx="1162.21" cy="149.38" r="3.65"/><circle cx="1178.18" cy="153.56" r="3.65"/><circle cx="1194.15" cy="157.68" r="3.65"/><circle cx="1210.12" cy="161.86" r="3.65"/><circle cx="1226.09" cy="166.07" r="3.65"/><circle cx="1242.06" cy="170.24" r="3.65"/><circle cx="1258.02" cy="174.35" r="3.65"/><circle cx="1273.99" cy="178.41" r="3.65"/><circle cx="1289.96" cy="182.85" r="3.65"/><circle cx="1305.93" cy="187.3" r="3.65"/><circle cx="1321.9" cy="191.74" r="3.65"/></g>
<g fill="#3aa499"><circle cx="858.8" cy="66.1" r="3.65"/><circle cx="874.77" cy="70.59" r="3.65"/><circle cx="890.74" cy="75.08" r="3.65"/><circle cx="906.71" cy="79.57" r="3.65"/><circle cx="922.68" cy="84.07" r="3.65"/><circle cx="938.64" cy="88.56" r="3.65"/><circle cx="954.61" cy="93.06" r="3.65"/><circle cx="970.58" cy="97.56" r="3.65"/><circle cx="986.55" cy="102.07" r="3.65"/><circle cx="1002.52" cy="106.58" r="3.65"/><circle cx="1018.49" cy="111.1" r="3.65"/><circle cx="1034.46" cy="115.62" r="3.65"/><circle cx="1050.43" cy="120.15" r="3.65"/><circle cx="1066.4" cy="124.73" r="3.65"/><circle cx="1082.37" cy="129.33" r="3.65"/><circle cx="1098.33" cy="133.95" r="3.65"/><circle cx="1114.3" cy="138.59" r="3.65"/><circle cx="1130.27" cy="143.26" r="3.65"/><circle cx="1146.24" cy="147.93" r="3.65"/><circle cx="1162.21" cy="152.63" r="3.65"/><circle cx="1178.18" cy="157.36" r="3.65"/><circle cx="1194.15" cy="162.14" r="3.65"/><circle cx="1210.12" cy="166.99" r="3.65"/><circle cx="1226.09" cy="171.92" r="3.65"/><circle cx="1242.06" cy="176.93" r="3.65"/><circle cx="1258.02" cy="182.04" r="3.65"/><circle cx="1273.99" cy="187.25" r="3.65"/><circle cx="1289.96" cy="192.88" r="3.65"/><circle cx="1305.93" cy="198.72" r="3.65"/><circle cx="1321.9" cy="204.8" r="3.65"/></g>
<g fill="#3db293"><circle cx="858.8" cy="66.21" r="3.65"/><circle cx="874.77" cy="70.71" r="3.65"/><circle cx="890.74" cy="75.22" r="3.65"/><circle cx="906.71" cy="79.74" r="3.65"/><circle cx="922.68" cy="84.26" r="3.65"/><circle cx="938.64" cy="88.79" r="3.65"/><circle cx="954.61" cy="93.37" r="3.65"/><circle cx="970.58" cy="97.97" r="3.65"/><circle cx="986.55" cy="102.58" r="3.65"/><circle cx="1002.52" cy="107.22" r="3.65"/><circle cx="1018.49" cy="111.89" r="3.65"/><circle cx="1034.46" cy="116.56" r="3.65"/><circle cx="1050.43" cy="121.25" r="3.65"/><circle cx="1066.4" cy="125.98" r="3.65"/><circle cx="1082.37" cy="130.75" r="3.65"/><circle cx="1098.33" cy="135.6" r="3.65"/><circle cx="1114.3" cy="140.53" r="3.65"/><circle cx="1130.27" cy="145.53" r="3.65"/><circle cx="1146.24" cy="150.63" r="3.65"/><circle cx="1162.21" cy="155.83" r="3.65"/><circle cx="1178.18" cy="161.42" r="3.65"/><circle cx="1194.15" cy="167.25" r="3.65"/><circle cx="1210.12" cy="173.3" r="3.65"/><circle cx="1226.09" cy="179.63" r="3.65"/><circle cx="1242.06" cy="186.27" r="3.65"/><circle cx="1258.02" cy="193.58" r="3.65"/><circle cx="1273.99" cy="201.93" r="3.65"/><circle cx="1289.96" cy="210.95" r="3.65"/><circle cx="1305.93" cy="222.08" r="3.65"/><circle cx="1321.9" cy="234.19" r="3.65"/></g>
<g fill="#4dc089"><circle cx="858.8" cy="66.31" r="3.65"/><circle cx="874.77" cy="70.83" r="3.65"/><circle cx="890.74" cy="75.37" r="3.65"/><circle cx="906.71" cy="79.96" r="3.65"/><circle cx="922.68" cy="84.56" r="3.65"/><circle cx="938.64" cy="89.18" r="3.65"/><circle cx="954.61" cy="93.82" r="3.65"/><circle cx="970.58" cy="98.5" r="3.65"/><circle cx="986.55" cy="103.16" r="3.65"/><circle cx="1002.52" cy="107.86" r="3.65"/><circle cx="1018.49" cy="112.6" r="3.65"/><circle cx="1034.46" cy="117.39" r="3.65"/><circle cx="1050.43" cy="122.25" r="3.65"/><circle cx="1066.4" cy="127.19" r="3.65"/><circle cx="1082.37" cy="132.22" r="3.65"/><circle cx="1098.33" cy="137.33" r="3.65"/><circle cx="1114.3" cy="142.59" r="3.65"/><circle cx="1130.27" cy="148.26" r="3.65"/><circle cx="1146.24" cy="154.13" r="3.65"/><circle cx="1162.21" cy="160.24" r="3.65"/><circle cx="1178.18" cy="166.63" r="3.65"/><circle cx="1194.15" cy="173.35" r="3.65"/><circle cx="1210.12" cy="180.93" r="3.65"/><circle cx="1226.09" cy="189.42" r="3.65"/><circle cx="1242.06" cy="198.63" r="3.65"/><circle cx="1258.02" cy="210.27" r="3.65"/><circle cx="1273.99" cy="222.61" r="3.65"/><circle cx="1289.96" cy="237.21" r="3.65"/><circle cx="1305.93" cy="253.92" r="3.65"/><circle cx="1321.9" cy="273.06" r="3.65"/></g>
<g fill="#69cc7a"><circle cx="858.8" cy="66.43" r="3.65"/><circle cx="874.77" cy="71.01" r="3.65"/><circle cx="890.74" cy="75.61" r="3.65"/><circle cx="906.71" cy="80.24" r="3.65"/><circle cx="922.68" cy="84.89" r="3.65"/><circle cx="938.64" cy="89.56" r="3.65"/><circle cx="954.61" cy="94.23" r="3.65"/><circle cx="970.58" cy="98.93" r="3.65"/><circle cx="986.55" cy="103.68" r="3.65"/><circle cx="1002.52" cy="108.47" r="3.65"/><circle cx="1018.49" cy="113.34" r="3.65"/><circle cx="1034.46" cy="118.3" r="3.65"/><circle cx="1050.43" cy="123.33" r="3.65"/><circle cx="1066.4" cy="128.46" r="3.65"/><circle cx="1082.37" cy="133.76" r="3.65"/><circle cx="1098.33" cy="139.45" r="3.65"/><circle cx="1114.3" cy="145.35" r="3.65"/><circle cx="1130.27" cy="151.49" r="3.65"/><circle cx="1146.24" cy="157.92" r="3.65"/><circle cx="1162.21" cy="164.68" r="3.65"/><circle cx="1178.18" cy="172.42" r="3.65"/><circle cx="1194.15" cy="180.98" r="3.65"/><circle cx="1210.12" cy="190.47" r="3.65"/><circle cx="1226.09" cy="202.17" r="3.65"/><circle cx="1242.06" cy="214.77" r="3.65"/><circle cx="1258.02" cy="229.61" r="3.65"/><circle cx="1273.99" cy="246.58" r="3.65"/><circle cx="1289.96" cy="266.1" r="3.65"/><circle cx="1305.93" cy="289.13" r="3.65"/><circle cx="1321.9" cy="315.78" r="3.65"/></g>
<g fill="#8ad766"><circle cx="858.8" cy="66.6" r="3.65"/><circle cx="874.77" cy="71.22" r="3.65"/><circle cx="890.74" cy="75.85" r="3.65"/><circle cx="906.71" cy="80.52" r="3.65"/><circle cx="922.68" cy="85.19" r="3.65"/><circle cx="938.64" cy="89.88" r="3.65"/><circle cx="954.61" cy="94.6" r="3.65"/><circle cx="970.58" cy="99.37" r="3.65"/><circle cx="986.55" cy="104.21" r="3.65"/><circle cx="1002.52" cy="109.13" r="3.65"/><circle cx="1018.49" cy="114.13" r="3.65"/><circle cx="1034.46" cy="119.22" r="3.65"/><circle cx="1050.43" cy="124.41" r="3.65"/><circle cx="1066.4" cy="129.97" r="3.65"/><circle cx="1082.37" cy="135.77" r="3.65"/><circle cx="1098.33" cy="141.81" r="3.65"/><circle cx="1114.3" cy="148.11" r="3.65"/><circle cx="1130.27" cy="154.73" r="3.65"/><circle cx="1146.24" cy="161.94" r="3.65"/><circle cx="1162.21" cy="170.24" r="3.65"/><circle cx="1178.18" cy="179.19" r="3.65"/><circle cx="1194.15" cy="190.12" r="3.65"/><circle cx="1210.12" cy="202.17" r="3.65"/><circle cx="1226.09" cy="216.09" r="3.65"/><circle cx="1242.06" cy="232.14" r="3.65"/><circle cx="1258.02" cy="250.5" r="3.65"/><circle cx="1273.99" cy="272.01" r="3.65"/><circle cx="1289.96" cy="297.26" r="3.65"/><circle cx="1305.93" cy="325.19" r="3.65"/><circle cx="1321.9" cy="359.94" r="3.65"/></g>
<g fill="#b0df4e"><circle cx="858.8" cy="66.78" r="3.65"/><circle cx="874.77" cy="71.42" r="3.65"/><circle cx="890.74" cy="76.09" r="3.65"/><circle cx="906.71" cy="80.76" r="3.65"/><circle cx="922.68" cy="85.46" r="3.65"/><circle cx="938.64" cy="90.2" r="3.65"/><circle cx="954.61" cy="94.98" r="3.65"/><circle cx="970.58" cy="99.84" r="3.65"/><circle cx="986.55" cy="104.78" r="3.65"/><circle cx="1002.52" cy="109.8" r="3.65"/><circle cx="1018.49" cy="114.91" r="3.65"/><circle cx="1034.46" cy="120.16" r="3.65"/><circle cx="1050.43" cy="125.82" r="3.65"/><circle cx="1066.4" cy="131.68" r="3.65"/><circle cx="1082.37" cy="137.78" r="3.65"/><circle cx="1098.33" cy="144.16" r="3.65"/><circle cx="1114.3" cy="150.87" r="3.65"/><circle cx="1130.27" cy="158.41" r="3.65"/><circle cx="1146.24" cy="166.87" r="3.65"/><circle cx="1162.21" cy="176.02" r="3.65"/><circle cx="1178.18" cy="187.62" r="3.65"/><circle cx="1194.15" cy="199.89" r="3.65"/><circle cx="1210.12" cy="214.43" r="3.65"/><circle cx="1226.09" cy="231.06" r="3.65"/><circle cx="1242.06" cy="250.08" r="3.65"/><circle cx="1258.02" cy="272.56" r="3.65"/><circle cx="1273.99" cy="298.88" r="3.65"/><circle cx="1289.96" cy="327.43" r="3.65"/><circle cx="1305.93" cy="364.57" r="3.65"/><circle cx="1321.9" cy="406.99" r="3.65"/></g>
<g fill="#d7e536"><circle cx="858.8" cy="66.95" r="3.65"/><circle cx="874.77" cy="71.62" r="3.65"/><circle cx="890.74" cy="76.29" r="3.65"/><circle cx="906.71" cy="80.99" r="3.65"/><circle cx="922.68" cy="85.73" r="3.65"/><circle cx="938.64" cy="90.52" r="3.65"/><circle cx="954.61" cy="95.38" r="3.65"/><circle cx="970.58" cy="100.33" r="3.65"/><circle cx="986.55" cy="105.35" r="3.65"/><circle cx="1002.52" cy="110.47" r="3.65"/><circle cx="1018.49" cy="115.73" r="3.65"/><circle cx="1034.46" cy="121.4" r="3.65"/><circle cx="1050.43" cy="127.28" r="3.65"/><circle cx="1066.4" cy="133.39" r="3.65"/><circle cx="1082.37" cy="139.79" r="3.65"/><circle cx="1098.33" cy="146.52" r="3.65"/><circle cx="1114.3" cy="154.12" r="3.65"/><circle cx="1130.27" cy="162.61" r="3.65"/><circle cx="1146.24" cy="171.87" r="3.65"/><circle cx="1162.21" cy="183.51" r="3.65"/><circle cx="1178.18" cy="195.89" r="3.65"/><circle cx="1194.15" cy="210.53" r="3.65"/><circle cx="1210.12" cy="227.28" r="3.65"/><circle cx="1226.09" cy="246.47" r="3.65"/><circle cx="1242.06" cy="269.13" r="3.65"/><circle cx="1258.02" cy="295.57" r="3.65"/><circle cx="1273.99" cy="324.51" r="3.65"/><circle cx="1289.96" cy="361.92" r="3.65"/><circle cx="1305.93" cy="404.68" r="3.65"/><circle cx="1321.9" cy="454.67" r="3.65"/></g>
<g fill="#fdea3f"><circle cx="858.8" cy="67.13" r="3.65"/><circle cx="874.77" cy="71.79" r="3.65"/><circle cx="890.74" cy="76.49" r="3.65"/><circle cx="906.71" cy="81.23" r="3.65"/><circle cx="922.68" cy="86" r="3.65"/><circle cx="938.64" cy="90.86" r="3.65"/><circle cx="954.61" cy="95.8" r="3.65"/><circle cx="970.58" cy="100.81" r="3.65"/><circle cx="986.55" cy="105.92" r="3.65"/><circle cx="1002.52" cy="111.15" r="3.65"/><circle cx="1018.49" cy="116.8" r="3.65"/><circle cx="1034.46" cy="122.65" r="3.65"/><circle cx="1050.43" cy="128.74" r="3.65"/><circle cx="1066.4" cy="135.11" r="3.65"/><circle cx="1082.37" cy="141.8" r="3.65"/><circle cx="1098.33" cy="149.28" r="3.65"/><circle cx="1114.3" cy="157.71" r="3.65"/><circle cx="1130.27" cy="166.82" r="3.65"/><circle cx="1146.24" cy="178.31" r="3.65"/><circle cx="1162.21" cy="190.51" r="3.65"/><circle cx="1178.18" cy="204.96" r="3.65"/><circle cx="1194.15" cy="221.48" r="3.65"/><circle cx="1210.12" cy="240.38" r="3.65"/><circle cx="1226.09" cy="262.68" r="3.65"/><circle cx="1242.06" cy="288.82" r="3.65"/><circle cx="1258.02" cy="317.26" r="3.65"/><circle cx="1273.99" cy="353.98" r="3.65"/><circle cx="1289.96" cy="396.09" r="3.65"/><circle cx="1305.93" cy="445.26" r="3.65"/><circle cx="1321.9" cy="503.37" r="3.65"/></g>
</g>
<rect x="845.5" y="52.8" width="489.9" height="464.2" fill="none" stroke="#454545" stroke-width="1.5"/>
<line x1="845.5" y1="58.9" x2="850" y2="58.9" stroke="#454545" stroke-width="1.5"/>
<line x1="845.5" y1="188.8" x2="850" y2="188.8" stroke="#454545" stroke-width="1.5"/>
<line x1="845.5" y1="318.7" x2="850" y2="318.7" stroke="#454545" stroke-width="1.5"/>
<line x1="845.5" y1="448.6" x2="850" y2="448.6" stroke="#454545" stroke-width="1.5"/>
<line x1="858.8" y1="517" x2="858.8" y2="511.7" stroke="#454545" stroke-width="1.5"/>
<line x1="1090.35" y1="517" x2="1090.35" y2="511.7" stroke="#454545" stroke-width="1.5"/>
<line x1="1321.9" y1="517" x2="1321.9" y2="511.7" stroke="#454545" stroke-width="1.5"/>
<text x="-3" y="0" font-size="35" fill="#444444" stroke="#444444" stroke-width="0.45" stroke-linejoin="round" transform="translate(772.1 74.8) scale(0.9194 1)">10</text>
<text x="804.4" y="56.9" font-size="28" fill="#444444" stroke="#444444" stroke-width="0.45" stroke-linejoin="round">−3</text>
<text x="-3" y="0" font-size="35" fill="#444444" stroke="#444444" stroke-width="0.45" stroke-linejoin="round" transform="translate(772 203.5) scale(0.9194 1)">10</text>
<text x="805.6" y="186.3" font-size="28" fill="#444444" stroke="#444444" stroke-width="0.45" stroke-linejoin="round">−6</text>
<text x="-3" y="0" font-size="35" fill="#444444" stroke="#444444" stroke-width="0.45" stroke-linejoin="round" transform="translate(772.1 333.3) scale(0.9194 1)">10</text>
<text x="806.4" y="314.4" font-size="28" fill="#444444" stroke="#444444" stroke-width="0.45" stroke-linejoin="round">−9</text>
<text x="-3" y="0" font-size="35" fill="#444444" stroke="#444444" stroke-width="0.45" stroke-linejoin="round" transform="translate(758.1 463.1) scale(0.9194 1)">10</text>
<text x="789" y="445.3" font-size="28" fill="#444444" letter-spacing="-1" stroke="#444444" stroke-width="0.45" stroke-linejoin="round">−12</text>
<text x="-3" y="0" font-size="35" fill="#444444" stroke="#444444" stroke-width="0.45" stroke-linejoin="round" transform="translate(833.9 561.5) scale(0.9290 1)">10</text>
<text x="867.8" y="543.8" font-size="28" fill="#444444" stroke="#444444" stroke-width="0.45" stroke-linejoin="round">2</text>
<text x="-3" y="0" font-size="35" fill="#444444" stroke="#444444" stroke-width="0.45" stroke-linejoin="round" transform="translate(1065 561.4) scale(0.9355 1)">10</text>
<text x="1097.6" y="543.6" font-size="28" fill="#444444" stroke="#444444" stroke-width="0.45" stroke-linejoin="round">3</text>
<text x="-3" y="0" font-size="35" fill="#444444" stroke="#444444" stroke-width="0.45" stroke-linejoin="round" transform="translate(1296 561.4) scale(0.9355 1)">10</text>
<text x="1331" y="543.6" font-size="28" fill="#444444" stroke="#444444" stroke-width="0.45" stroke-linejoin="round">4</text>
<text x="1082.1" y="597.5" font-size="48" font-style="italic" font-weight="bold" fill="#000" stroke="#000" stroke-width="0.25" stroke-linejoin="round">t</text>
<text x="-2" y="0" font-size="60" fill="#000" stroke="#000" stroke-width="0.55" stroke-linejoin="round" transform="translate(700.4 44.5) scale(1.0424 1)">(b)</text>
<text x="754.8" y="329.1" font-size="48" font-style="italic" fill="#000" stroke="#000" stroke-width="1.2" stroke-linejoin="round" transform="rotate(-90 754.8 329.1)">v</text>
<text x="761.6" y="308.4" font-size="34" fill="#000" stroke="#000" stroke-width="0.55" stroke-linejoin="round" transform="rotate(-90 761.6 308.4)">lim</text>
<defs><linearGradient id="vir" x1="0" y1="0" x2="1" y2="0"><stop offset="0.000" stop-color="#440154"/><stop offset="0.050" stop-color="#471365"/><stop offset="0.100" stop-color="#482475"/><stop offset="0.150" stop-color="#463480"/><stop offset="0.200" stop-color="#414487"/><stop offset="0.250" stop-color="#3b528b"/><stop offset="0.300" stop-color="#355f8d"/><stop offset="0.350" stop-color="#2f6c8e"/><stop offset="0.400" stop-color="#2a788e"/><stop offset="0.450" stop-color="#25848e"/><stop offset="0.500" stop-color="#21918c"/><stop offset="0.550" stop-color="#1e9c89"/><stop offset="0.600" stop-color="#22a884"/><stop offset="0.650" stop-color="#2fb47c"/><stop offset="0.700" stop-color="#44bf70"/><stop offset="0.750" stop-color="#5ec962"/><stop offset="0.800" stop-color="#7ad151"/><stop offset="0.850" stop-color="#9bd93c"/><stop offset="0.900" stop-color="#bddf26"/><stop offset="0.950" stop-color="#dfe318"/><stop offset="1.000" stop-color="#fde725"/></linearGradient></defs>
<rect x="949" y="381" width="187" height="37" fill="url(#vir)"/>
<text x="1005.1" y="363.7" font-size="48" font-style="italic" fill="#000" stroke="#000" stroke-width="0.75" stroke-linejoin="round">r</text>
<text x="1029" y="361.4" font-size="48" fill="#000" stroke="#000" stroke-width="0.55" stroke-linejoin="round">/</text>
<text x="1047.8" y="363.7" font-size="48" font-style="italic" fill="#000" stroke="#000" stroke-width="0.75" stroke-linejoin="round">r</text>
<text x="1066.5" y="371" font-size="35" fill="#000" stroke="#000" stroke-width="0.55" stroke-linejoin="round">c</text>
<text x="909.4" y="451.1" font-size="35" fill="#000" stroke="#000" stroke-width="0.55" stroke-linejoin="round">0.999</text>
<text x="1095.7" y="451.1" font-size="35" fill="#000" stroke="#000" stroke-width="0.55" stroke-linejoin="round">1.001</text>
<defs><clipPath id="clipC"><rect x="846.4" y="617.4" width="490.9" height="447.6"/></clipPath></defs>
<g clip-path="url(#clipC)">
<g fill="#5a1f69"><circle cx="1030.85" cy="725.04" r="3.65"/><circle cx="1040.9" cy="724.8" r="3.65"/><circle cx="1050.95" cy="724.52" r="3.65"/><circle cx="1061.01" cy="724.19" r="3.65"/><circle cx="1071.06" cy="723.81" r="3.65"/><circle cx="1081.11" cy="723.49" r="3.65"/><circle cx="1091.16" cy="723.21" r="3.65"/><circle cx="1101.21" cy="722.87" r="3.65"/><circle cx="1111.26" cy="722.48" r="3.65"/><circle cx="1121.32" cy="722.03" r="3.65"/><circle cx="1131.37" cy="722" r="3.65"/><circle cx="1141.42" cy="721.97" r="3.65"/><circle cx="1151.47" cy="721.93" r="3.65"/><circle cx="1161.52" cy="721.89" r="3.65"/><circle cx="1171.57" cy="721.83" r="3.65"/><circle cx="1181.63" cy="721.93" r="3.65"/><circle cx="1191.68" cy="722.21" r="3.65"/><circle cx="1201.73" cy="722.54" r="3.65"/><circle cx="1211.78" cy="722.99" r="3.65"/><circle cx="1221.83" cy="724.82" r="3.65"/><circle cx="1231.88" cy="727.64" r="3.65"/><circle cx="1241.94" cy="731.99" r="3.65"/><circle cx="1251.99" cy="737.34" r="3.65"/><circle cx="1262.04" cy="744.29" r="3.65"/><circle cx="1272.09" cy="754.29" r="3.65"/><circle cx="1282.14" cy="765.34" r="3.65"/><circle cx="1292.19" cy="779.36" r="3.65"/><circle cx="1302.25" cy="797.84" r="3.65"/><circle cx="1312.3" cy="818.97" r="3.65"/><circle cx="1322.35" cy="845.3" r="3.65"/></g>
<g fill="#5e357e"><circle cx="1021.79" cy="725.28" r="3.65"/><circle cx="1031.84" cy="725.02" r="3.65"/><circle cx="1041.9" cy="724.77" r="3.65"/><circle cx="1051.95" cy="724.49" r="3.65"/><circle cx="1062" cy="724.16" r="3.65"/><circle cx="1072.05" cy="723.77" r="3.65"/><circle cx="1082.1" cy="723.47" r="3.65"/><circle cx="1092.15" cy="723.18" r="3.65"/><circle cx="1102.21" cy="722.84" r="3.65"/><circle cx="1112.26" cy="722.44" r="3.65"/><circle cx="1122.31" cy="722.03" r="3.65"/><circle cx="1132.36" cy="722" r="3.65"/><circle cx="1142.41" cy="721.97" r="3.65"/><circle cx="1152.46" cy="721.93" r="3.65"/><circle cx="1162.52" cy="721.88" r="3.65"/><circle cx="1172.57" cy="721.83" r="3.65"/><circle cx="1182.62" cy="721.95" r="3.65"/><circle cx="1192.67" cy="722.24" r="3.65"/><circle cx="1202.72" cy="722.58" r="3.65"/><circle cx="1212.77" cy="723.16" r="3.65"/><circle cx="1222.83" cy="725.08" r="3.65"/><circle cx="1232.88" cy="728.04" r="3.65"/><circle cx="1242.93" cy="732.48" r="3.65"/><circle cx="1252.98" cy="737.97" r="3.65"/><circle cx="1263.03" cy="745.21" r="3.65"/><circle cx="1273.09" cy="755.31" r="3.65"/><circle cx="1283.14" cy="766.63" r="3.65"/><circle cx="1293.19" cy="781.06" r="3.65"/><circle cx="1303.24" cy="799.81" r="3.65"/><circle cx="1313.29" cy="821.32" r="3.65"/></g>
<g fill="#5d488d"><circle cx="1011.22" cy="725.53" r="3.65"/><circle cx="1021.27" cy="725.3" r="3.65"/><circle cx="1031.32" cy="725.03" r="3.65"/><circle cx="1041.37" cy="724.79" r="3.65"/><circle cx="1051.42" cy="724.5" r="3.65"/><circle cx="1061.48" cy="724.17" r="3.65"/><circle cx="1071.53" cy="723.79" r="3.65"/><circle cx="1081.58" cy="723.48" r="3.65"/><circle cx="1091.63" cy="723.19" r="3.65"/><circle cx="1101.68" cy="722.86" r="3.65"/><circle cx="1111.73" cy="722.46" r="3.65"/><circle cx="1121.79" cy="722.03" r="3.65"/><circle cx="1131.84" cy="722" r="3.65"/><circle cx="1141.89" cy="721.97" r="3.65"/><circle cx="1151.94" cy="721.93" r="3.65"/><circle cx="1161.99" cy="721.88" r="3.65"/><circle cx="1172.05" cy="721.83" r="3.65"/><circle cx="1182.1" cy="721.94" r="3.65"/><circle cx="1192.15" cy="722.23" r="3.65"/><circle cx="1202.2" cy="722.56" r="3.65"/><circle cx="1212.25" cy="723.07" r="3.65"/><circle cx="1222.3" cy="724.94" r="3.65"/><circle cx="1232.36" cy="727.83" r="3.65"/><circle cx="1242.41" cy="732.22" r="3.65"/><circle cx="1252.46" cy="737.64" r="3.65"/><circle cx="1262.51" cy="744.72" r="3.65"/><circle cx="1272.56" cy="754.77" r="3.65"/><circle cx="1282.61" cy="765.95" r="3.65"/><circle cx="1292.67" cy="780.16" r="3.65"/><circle cx="1302.72" cy="798.78" r="3.65"/></g>
<g fill="#585a95"><circle cx="998.52" cy="725.78" r="3.65"/><circle cx="1008.57" cy="725.59" r="3.65"/><circle cx="1018.62" cy="725.36" r="3.65"/><circle cx="1028.67" cy="725.1" r="3.65"/><circle cx="1038.72" cy="724.85" r="3.65"/><circle cx="1048.77" cy="724.58" r="3.65"/><circle cx="1058.83" cy="724.27" r="3.65"/><circle cx="1068.88" cy="723.9" r="3.65"/><circle cx="1078.93" cy="723.55" r="3.65"/><circle cx="1088.98" cy="723.27" r="3.65"/><circle cx="1099.03" cy="722.95" r="3.65"/><circle cx="1109.08" cy="722.57" r="3.65"/><circle cx="1119.14" cy="722.13" r="3.65"/><circle cx="1129.19" cy="722.01" r="3.65"/><circle cx="1139.24" cy="721.98" r="3.65"/><circle cx="1149.29" cy="721.94" r="3.65"/><circle cx="1159.34" cy="721.9" r="3.65"/><circle cx="1169.39" cy="721.85" r="3.65"/><circle cx="1179.45" cy="721.87" r="3.65"/><circle cx="1189.5" cy="722.15" r="3.65"/><circle cx="1199.55" cy="722.47" r="3.65"/><circle cx="1209.6" cy="722.84" r="3.65"/><circle cx="1219.65" cy="724.38" r="3.65"/><circle cx="1229.71" cy="726.96" r="3.65"/><circle cx="1239.76" cy="730.98" r="3.65"/><circle cx="1249.81" cy="736.09" r="3.65"/><circle cx="1259.86" cy="742.63" r="3.65"/><circle cx="1269.91" cy="752" r="3.65"/><circle cx="1279.96" cy="762.77" r="3.65"/><circle cx="1290.02" cy="776.11" r="3.65"/></g>
<g fill="#516a9a"><circle cx="982.61" cy="726" r="3.65"/><circle cx="992.66" cy="725.87" r="3.65"/><circle cx="1002.71" cy="725.7" r="3.65"/><circle cx="1012.76" cy="725.5" r="3.65"/><circle cx="1022.81" cy="725.26" r="3.65"/><circle cx="1032.87" cy="724.99" r="3.65"/><circle cx="1042.92" cy="724.75" r="3.65"/><circle cx="1052.97" cy="724.46" r="3.65"/><circle cx="1063.02" cy="724.12" r="3.65"/><circle cx="1073.07" cy="723.72" r="3.65"/><circle cx="1083.12" cy="723.44" r="3.65"/><circle cx="1093.18" cy="723.14" r="3.65"/><circle cx="1103.23" cy="722.8" r="3.65"/><circle cx="1113.28" cy="722.4" r="3.65"/><circle cx="1123.33" cy="722.03" r="3.65"/><circle cx="1133.38" cy="722" r="3.65"/><circle cx="1143.44" cy="721.96" r="3.65"/><circle cx="1153.49" cy="721.92" r="3.65"/><circle cx="1163.54" cy="721.88" r="3.65"/><circle cx="1173.59" cy="721.82" r="3.65"/><circle cx="1183.64" cy="721.98" r="3.65"/><circle cx="1193.69" cy="722.27" r="3.65"/><circle cx="1203.75" cy="722.62" r="3.65"/><circle cx="1213.8" cy="723.33" r="3.65"/><circle cx="1223.85" cy="725.34" r="3.65"/><circle cx="1233.9" cy="728.46" r="3.65"/><circle cx="1243.95" cy="732.99" r="3.65"/><circle cx="1254" cy="738.63" r="3.65"/><circle cx="1264.06" cy="746.17" r="3.65"/><circle cx="1274.11" cy="756.36" r="3.65"/></g>
<g fill="#4a7a9c"><circle cx="961.31" cy="726.15" r="3.65"/><circle cx="971.36" cy="726.09" r="3.65"/><circle cx="981.41" cy="726.01" r="3.65"/><circle cx="991.46" cy="725.89" r="3.65"/><circle cx="1001.52" cy="725.72" r="3.65"/><circle cx="1011.57" cy="725.52" r="3.65"/><circle cx="1021.62" cy="725.29" r="3.65"/><circle cx="1031.67" cy="725.02" r="3.65"/><circle cx="1041.72" cy="724.78" r="3.65"/><circle cx="1051.78" cy="724.49" r="3.65"/><circle cx="1061.83" cy="724.16" r="3.65"/><circle cx="1071.88" cy="723.77" r="3.65"/><circle cx="1081.93" cy="723.47" r="3.65"/><circle cx="1091.98" cy="723.18" r="3.65"/><circle cx="1102.03" cy="722.84" r="3.65"/><circle cx="1112.09" cy="722.45" r="3.65"/><circle cx="1122.14" cy="722.03" r="3.65"/><circle cx="1132.19" cy="722" r="3.65"/><circle cx="1142.24" cy="721.97" r="3.65"/><circle cx="1152.29" cy="721.93" r="3.65"/><circle cx="1162.34" cy="721.88" r="3.65"/><circle cx="1172.4" cy="721.83" r="3.65"/><circle cx="1182.45" cy="721.95" r="3.65"/><circle cx="1192.5" cy="722.24" r="3.65"/><circle cx="1202.55" cy="722.57" r="3.65"/><circle cx="1212.6" cy="723.13" r="3.65"/><circle cx="1222.65" cy="725.03" r="3.65"/><circle cx="1232.71" cy="727.97" r="3.65"/><circle cx="1242.76" cy="732.39" r="3.65"/><circle cx="1252.81" cy="737.86" r="3.65"/></g>
<g fill="#44889c"><circle cx="928.98" cy="726.31" r="3.65"/><circle cx="939.03" cy="726.27" r="3.65"/><circle cx="949.08" cy="726.22" r="3.65"/><circle cx="959.13" cy="726.17" r="3.65"/><circle cx="969.18" cy="726.1" r="3.65"/><circle cx="979.23" cy="726.03" r="3.65"/><circle cx="989.29" cy="725.93" r="3.65"/><circle cx="999.34" cy="725.76" r="3.65"/><circle cx="1009.39" cy="725.57" r="3.65"/><circle cx="1019.44" cy="725.34" r="3.65"/><circle cx="1029.49" cy="725.08" r="3.65"/><circle cx="1039.54" cy="724.83" r="3.65"/><circle cx="1049.6" cy="724.56" r="3.65"/><circle cx="1059.65" cy="724.24" r="3.65"/><circle cx="1069.7" cy="723.86" r="3.65"/><circle cx="1079.75" cy="723.53" r="3.65"/><circle cx="1089.8" cy="723.25" r="3.65"/><circle cx="1099.85" cy="722.92" r="3.65"/><circle cx="1109.91" cy="722.54" r="3.65"/><circle cx="1119.96" cy="722.09" r="3.65"/><circle cx="1130.01" cy="722.01" r="3.65"/><circle cx="1140.06" cy="721.98" r="3.65"/><circle cx="1150.11" cy="721.94" r="3.65"/><circle cx="1160.16" cy="721.89" r="3.65"/><circle cx="1170.22" cy="721.84" r="3.65"/><circle cx="1180.27" cy="721.89" r="3.65"/><circle cx="1190.32" cy="722.17" r="3.65"/><circle cx="1200.37" cy="722.5" r="3.65"/><circle cx="1210.42" cy="722.88" r="3.65"/><circle cx="1220.48" cy="724.53" r="3.65"/></g>
<g fill="#3d969c"><circle cx="859.43" cy="726.42" r="3.65"/><circle cx="869.49" cy="726.42" r="3.65"/><circle cx="879.54" cy="726.42" r="3.65"/><circle cx="889.59" cy="726.41" r="3.65"/><circle cx="899.64" cy="726.39" r="3.65"/><circle cx="909.69" cy="726.37" r="3.65"/><circle cx="919.75" cy="726.34" r="3.65"/><circle cx="929.8" cy="726.3" r="3.65"/><circle cx="939.85" cy="726.26" r="3.65"/><circle cx="949.9" cy="726.22" r="3.65"/><circle cx="959.95" cy="726.16" r="3.65"/><circle cx="970" cy="726.1" r="3.65"/><circle cx="980.06" cy="726.02" r="3.65"/><circle cx="990.11" cy="725.91" r="3.65"/><circle cx="1000.16" cy="725.75" r="3.65"/><circle cx="1010.21" cy="725.55" r="3.65"/><circle cx="1020.26" cy="725.32" r="3.65"/><circle cx="1030.31" cy="725.05" r="3.65"/><circle cx="1040.37" cy="724.81" r="3.65"/><circle cx="1050.42" cy="724.53" r="3.65"/><circle cx="1060.47" cy="724.21" r="3.65"/><circle cx="1070.52" cy="723.83" r="3.65"/><circle cx="1080.57" cy="723.51" r="3.65"/><circle cx="1090.62" cy="723.22" r="3.65"/><circle cx="1100.68" cy="722.89" r="3.65"/><circle cx="1110.73" cy="722.5" r="3.65"/><circle cx="1120.78" cy="722.05" r="3.65"/><circle cx="1130.83" cy="722.01" r="3.65"/><circle cx="1140.88" cy="721.97" r="3.65"/><circle cx="1150.93" cy="721.93" r="3.65"/></g>
<g fill="#3aa499"><circle cx="859.43" cy="726.48" r="3.65"/><circle cx="869.49" cy="726.5" r="3.65"/><circle cx="879.54" cy="726.51" r="3.65"/><circle cx="889.59" cy="726.52" r="3.65"/><circle cx="899.64" cy="726.54" r="3.65"/><circle cx="909.69" cy="726.55" r="3.65"/><circle cx="919.75" cy="726.57" r="3.65"/><circle cx="929.8" cy="726.6" r="3.65"/><circle cx="939.85" cy="726.63" r="3.65"/><circle cx="949.9" cy="726.66" r="3.65"/><circle cx="959.95" cy="726.7" r="3.65"/><circle cx="970" cy="726.75" r="3.65"/><circle cx="980.06" cy="726.8" r="3.65"/><circle cx="990.11" cy="726.91" r="3.65"/><circle cx="1000.16" cy="727.04" r="3.65"/><circle cx="1010.21" cy="727.19" r="3.65"/><circle cx="1020.26" cy="727.36" r="3.65"/><circle cx="1030.31" cy="727.57" r="3.65"/><circle cx="1040.37" cy="727.77" r="3.65"/><circle cx="1050.42" cy="728" r="3.65"/><circle cx="1060.47" cy="728.27" r="3.65"/><circle cx="1070.52" cy="728.58" r="3.65"/><circle cx="1080.57" cy="728.98" r="3.65"/><circle cx="1090.62" cy="729.47" r="3.65"/><circle cx="1100.68" cy="730.03" r="3.65"/><circle cx="1110.73" cy="730.7" r="3.65"/><circle cx="1120.78" cy="731.48" r="3.65"/><circle cx="1130.83" cy="732.71" r="3.65"/><circle cx="1140.88" cy="734.16" r="3.65"/><circle cx="1150.93" cy="735.87" r="3.65"/></g>
<g fill="#3db293"><circle cx="928.98" cy="726.6" r="3.65"/><circle cx="939.03" cy="726.62" r="3.65"/><circle cx="949.08" cy="726.66" r="3.65"/><circle cx="959.13" cy="726.7" r="3.65"/><circle cx="969.18" cy="726.74" r="3.65"/><circle cx="979.23" cy="726.8" r="3.65"/><circle cx="989.29" cy="726.9" r="3.65"/><circle cx="999.34" cy="727.03" r="3.65"/><circle cx="1009.39" cy="727.17" r="3.65"/><circle cx="1019.44" cy="727.35" r="3.65"/><circle cx="1029.49" cy="727.55" r="3.65"/><circle cx="1039.54" cy="727.75" r="3.65"/><circle cx="1049.6" cy="727.98" r="3.65"/><circle cx="1059.65" cy="728.24" r="3.65"/><circle cx="1069.7" cy="728.56" r="3.65"/><circle cx="1079.75" cy="728.95" r="3.65"/><circle cx="1089.8" cy="729.42" r="3.65"/><circle cx="1099.85" cy="729.98" r="3.65"/><circle cx="1109.91" cy="730.64" r="3.65"/><circle cx="1119.96" cy="731.41" r="3.65"/><circle cx="1130.01" cy="732.6" r="3.65"/><circle cx="1140.06" cy="734.04" r="3.65"/><circle cx="1150.11" cy="735.72" r="3.65"/><circle cx="1160.16" cy="737.69" r="3.65"/><circle cx="1170.22" cy="740" r="3.65"/><circle cx="1180.27" cy="743.02" r="3.65"/><circle cx="1190.32" cy="747.15" r="3.65"/><circle cx="1200.37" cy="751.99" r="3.65"/><circle cx="1210.42" cy="759.09" r="3.65"/><circle cx="1220.48" cy="767.23" r="3.65"/></g>
<g fill="#4dc089"><circle cx="961.31" cy="726.71" r="3.65"/><circle cx="971.36" cy="726.75" r="3.65"/><circle cx="981.41" cy="726.82" r="3.65"/><circle cx="991.46" cy="726.93" r="3.65"/><circle cx="1001.52" cy="727.06" r="3.65"/><circle cx="1011.57" cy="727.21" r="3.65"/><circle cx="1021.62" cy="727.39" r="3.65"/><circle cx="1031.67" cy="727.59" r="3.65"/><circle cx="1041.72" cy="727.79" r="3.65"/><circle cx="1051.78" cy="728.03" r="3.65"/><circle cx="1061.83" cy="728.31" r="3.65"/><circle cx="1071.88" cy="728.63" r="3.65"/><circle cx="1081.93" cy="729.04" r="3.65"/><circle cx="1091.98" cy="729.54" r="3.65"/><circle cx="1102.03" cy="730.12" r="3.65"/><circle cx="1112.09" cy="730.8" r="3.65"/><circle cx="1122.14" cy="731.63" r="3.65"/><circle cx="1132.19" cy="732.89" r="3.65"/><circle cx="1142.24" cy="734.38" r="3.65"/><circle cx="1152.29" cy="736.12" r="3.65"/><circle cx="1162.34" cy="738.16" r="3.65"/><circle cx="1172.4" cy="740.55" r="3.65"/><circle cx="1182.45" cy="743.86" r="3.65"/><circle cx="1192.5" cy="748.13" r="3.65"/><circle cx="1202.55" cy="753.19" r="3.65"/><circle cx="1212.6" cy="760.82" r="3.65"/><circle cx="1222.65" cy="769.21" r="3.65"/><circle cx="1232.71" cy="780.02" r="3.65"/><circle cx="1242.76" cy="793.07" r="3.65"/><circle cx="1252.81" cy="808.7" r="3.65"/></g>
<g fill="#69cc7a"><circle cx="982.61" cy="726.83" r="3.65"/><circle cx="992.66" cy="726.94" r="3.65"/><circle cx="1002.71" cy="727.07" r="3.65"/><circle cx="1012.76" cy="727.23" r="3.65"/><circle cx="1022.81" cy="727.41" r="3.65"/><circle cx="1032.87" cy="727.62" r="3.65"/><circle cx="1042.92" cy="727.82" r="3.65"/><circle cx="1052.97" cy="728.06" r="3.65"/><circle cx="1063.02" cy="728.34" r="3.65"/><circle cx="1073.07" cy="728.67" r="3.65"/><circle cx="1083.12" cy="729.1" r="3.65"/><circle cx="1093.18" cy="729.6" r="3.65"/><circle cx="1103.23" cy="730.19" r="3.65"/><circle cx="1113.28" cy="730.89" r="3.65"/><circle cx="1123.33" cy="731.77" r="3.65"/><circle cx="1133.38" cy="733.06" r="3.65"/><circle cx="1143.44" cy="734.57" r="3.65"/><circle cx="1153.49" cy="736.35" r="3.65"/><circle cx="1163.54" cy="738.42" r="3.65"/><circle cx="1173.59" cy="740.86" r="3.65"/><circle cx="1183.64" cy="744.33" r="3.65"/><circle cx="1193.69" cy="748.69" r="3.65"/><circle cx="1203.75" cy="754.04" r="3.65"/><circle cx="1213.8" cy="761.74" r="3.65"/><circle cx="1223.85" cy="770.41" r="3.65"/><circle cx="1233.9" cy="781.46" r="3.65"/><circle cx="1243.95" cy="794.79" r="3.65"/><circle cx="1254" cy="810.84" r="3.65"/><circle cx="1264.06" cy="830.63" r="3.65"/><circle cx="1274.11" cy="854.29" r="3.65"/></g>
<g fill="#8ad766"><circle cx="998.52" cy="727.02" r="3.65"/><circle cx="1008.57" cy="727.16" r="3.65"/><circle cx="1018.62" cy="727.33" r="3.65"/><circle cx="1028.67" cy="727.53" r="3.65"/><circle cx="1038.72" cy="727.73" r="3.65"/><circle cx="1048.77" cy="727.96" r="3.65"/><circle cx="1058.83" cy="728.22" r="3.65"/><circle cx="1068.88" cy="728.53" r="3.65"/><circle cx="1078.93" cy="728.91" r="3.65"/><circle cx="1088.98" cy="729.38" r="3.65"/><circle cx="1099.03" cy="729.93" r="3.65"/><circle cx="1109.08" cy="730.58" r="3.65"/><circle cx="1119.14" cy="731.34" r="3.65"/><circle cx="1129.19" cy="732.49" r="3.65"/><circle cx="1139.24" cy="733.91" r="3.65"/><circle cx="1149.29" cy="735.57" r="3.65"/><circle cx="1159.34" cy="737.52" r="3.65"/><circle cx="1169.39" cy="739.8" r="3.65"/><circle cx="1179.45" cy="742.71" r="3.65"/><circle cx="1189.5" cy="746.79" r="3.65"/><circle cx="1199.55" cy="751.56" r="3.65"/><circle cx="1209.6" cy="758.44" r="3.65"/><circle cx="1219.65" cy="766.53" r="3.65"/><circle cx="1229.71" cy="776.6" r="3.65"/><circle cx="1239.76" cy="788.94" r="3.65"/><circle cx="1249.81" cy="803.74" r="3.65"/><circle cx="1259.86" cy="821.92" r="3.65"/><circle cx="1269.91" cy="844.08" r="3.65"/><circle cx="1279.96" cy="869.1" r="3.65"/><circle cx="1290.02" cy="901.4" r="3.65"/></g>
<g fill="#b0df4e"><circle cx="1011.22" cy="727.2" r="3.65"/><circle cx="1021.27" cy="727.38" r="3.65"/><circle cx="1031.32" cy="727.59" r="3.65"/><circle cx="1041.37" cy="727.79" r="3.65"/><circle cx="1051.42" cy="728.02" r="3.65"/><circle cx="1061.48" cy="728.3" r="3.65"/><circle cx="1071.53" cy="728.62" r="3.65"/><circle cx="1081.58" cy="729.03" r="3.65"/><circle cx="1091.63" cy="729.52" r="3.65"/><circle cx="1101.68" cy="730.1" r="3.65"/><circle cx="1111.73" cy="730.77" r="3.65"/><circle cx="1121.79" cy="731.59" r="3.65"/><circle cx="1131.84" cy="732.85" r="3.65"/><circle cx="1141.89" cy="734.32" r="3.65"/><circle cx="1151.94" cy="736.05" r="3.65"/><circle cx="1161.99" cy="738.08" r="3.65"/><circle cx="1172.05" cy="740.46" r="3.65"/><circle cx="1182.1" cy="743.72" r="3.65"/><circle cx="1192.15" cy="747.97" r="3.65"/><circle cx="1202.2" cy="752.95" r="3.65"/><circle cx="1212.25" cy="760.55" r="3.65"/><circle cx="1222.3" cy="768.86" r="3.65"/><circle cx="1232.36" cy="779.6" r="3.65"/><circle cx="1242.41" cy="792.57" r="3.65"/><circle cx="1252.46" cy="808.09" r="3.65"/><circle cx="1262.51" cy="827.28" r="3.65"/><circle cx="1272.56" cy="850.59" r="3.65"/><circle cx="1282.61" cy="876.27" r="3.65"/><circle cx="1292.67" cy="911.12" r="3.65"/><circle cx="1302.72" cy="951.6" r="3.65"/></g>
<g fill="#d7e536"><circle cx="1021.79" cy="727.39" r="3.65"/><circle cx="1031.84" cy="727.6" r="3.65"/><circle cx="1041.9" cy="727.8" r="3.65"/><circle cx="1051.95" cy="728.03" r="3.65"/><circle cx="1062" cy="728.31" r="3.65"/><circle cx="1072.05" cy="728.64" r="3.65"/><circle cx="1082.1" cy="729.05" r="3.65"/><circle cx="1092.15" cy="729.55" r="3.65"/><circle cx="1102.21" cy="730.13" r="3.65"/><circle cx="1112.26" cy="730.81" r="3.65"/><circle cx="1122.31" cy="731.65" r="3.65"/><circle cx="1132.36" cy="732.92" r="3.65"/><circle cx="1142.41" cy="734.41" r="3.65"/><circle cx="1152.46" cy="736.15" r="3.65"/><circle cx="1162.52" cy="738.2" r="3.65"/><circle cx="1172.57" cy="740.59" r="3.65"/><circle cx="1182.62" cy="743.93" r="3.65"/><circle cx="1192.67" cy="748.21" r="3.65"/><circle cx="1202.72" cy="753.31" r="3.65"/><circle cx="1212.77" cy="760.95" r="3.65"/><circle cx="1222.83" cy="769.38" r="3.65"/><circle cx="1232.88" cy="780.22" r="3.65"/><circle cx="1242.93" cy="793.31" r="3.65"/><circle cx="1252.98" cy="809.01" r="3.65"/><circle cx="1263.03" cy="828.4" r="3.65"/><circle cx="1273.09" cy="851.84" r="3.65"/><circle cx="1283.14" cy="877.94" r="3.65"/><circle cx="1293.19" cy="913.07" r="3.65"/><circle cx="1303.24" cy="953.91" r="3.65"/><circle cx="1313.29" cy="1002.48" r="3.65"/></g>
<g fill="#fdea3f"><circle cx="1030.85" cy="727.58" r="3.65"/><circle cx="1040.9" cy="727.78" r="3.65"/><circle cx="1050.95" cy="728.01" r="3.65"/><circle cx="1061.01" cy="728.28" r="3.65"/><circle cx="1071.06" cy="728.6" r="3.65"/><circle cx="1081.11" cy="729.01" r="3.65"/><circle cx="1091.16" cy="729.49" r="3.65"/><circle cx="1101.21" cy="730.07" r="3.65"/><circle cx="1111.26" cy="730.74" r="3.65"/><circle cx="1121.32" cy="731.53" r="3.65"/><circle cx="1131.37" cy="732.78" r="3.65"/><circle cx="1141.42" cy="734.25" r="3.65"/><circle cx="1151.47" cy="735.97" r="3.65"/><circle cx="1161.52" cy="737.98" r="3.65"/><circle cx="1171.57" cy="740.34" r="3.65"/><circle cx="1181.63" cy="743.54" r="3.65"/><circle cx="1191.68" cy="747.76" r="3.65"/><circle cx="1201.73" cy="752.7" r="3.65"/><circle cx="1211.78" cy="760.18" r="3.65"/><circle cx="1221.83" cy="768.42" r="3.65"/><circle cx="1231.88" cy="779.05" r="3.65"/><circle cx="1241.94" cy="791.91" r="3.65"/><circle cx="1251.99" cy="807.29" r="3.65"/><circle cx="1262.04" cy="826.31" r="3.65"/><circle cx="1272.09" cy="849.41" r="3.65"/><circle cx="1282.14" cy="874.98" r="3.65"/><circle cx="1292.19" cy="909.38" r="3.65"/><circle cx="1302.25" cy="949.53" r="3.65"/><circle cx="1312.3" cy="997.22" r="3.65"/><circle cx="1322.35" cy="1054.44" r="3.65"/></g>
</g>
<rect x="846.4" y="617.4" width="490.9" height="447.6" fill="none" stroke="#454545" stroke-width="1.5"/>
<line x1="846.4" y1="626.4" x2="850.9" y2="626.4" stroke="#454545" stroke-width="1.5"/>
<line x1="846.4" y1="718.8" x2="850.9" y2="718.8" stroke="#454545" stroke-width="1.5"/>
<line x1="846.4" y1="811.2" x2="850.9" y2="811.2" stroke="#454545" stroke-width="1.5"/>
<line x1="846.4" y1="903.6" x2="850.9" y2="903.6" stroke="#454545" stroke-width="1.5"/>
<line x1="846.4" y1="996" x2="850.9" y2="996" stroke="#454545" stroke-width="1.5"/>
<line x1="885.1" y1="1065" x2="885.1" y2="1059.7" stroke="#454545" stroke-width="1.5"/>
<line x1="1030.85" y1="1065" x2="1030.85" y2="1059.7" stroke="#454545" stroke-width="1.5"/>
<line x1="1176.6" y1="1065" x2="1176.6" y2="1059.7" stroke="#454545" stroke-width="1.5"/>
<line x1="1322.35" y1="1065" x2="1322.35" y2="1059.7" stroke="#454545" stroke-width="1.5"/>
<text x="-3" y="0" font-size="34" fill="#444444" stroke="#444444" stroke-width="0.45" stroke-linejoin="round" transform="translate(785.6 641) scale(0.9500 1)">10</text>
<text x="821.5" y="624.2" font-size="28" fill="#444444" stroke="#444444" stroke-width="0.45" stroke-linejoin="round">2</text>
<text x="-3" y="0" font-size="34" fill="#444444" stroke="#444444" stroke-width="0.45" stroke-linejoin="round" transform="translate(785.6 733.1) scale(0.9500 1)">10</text>
<text x="820.4" y="715.7" font-size="28" fill="#444444" stroke="#444444" stroke-width="0.45" stroke-linejoin="round">0</text>
<text x="-3" y="0" font-size="34" fill="#444444" stroke="#444444" stroke-width="0.45" stroke-linejoin="round" transform="translate(774.3 825.3) scale(0.9500 1)">10</text>
<text x="807.8" y="807.9" font-size="28" fill="#444444" stroke="#444444" stroke-width="0.45" stroke-linejoin="round">−2</text>
<text x="-3" y="0" font-size="34" fill="#444444" stroke="#444444" stroke-width="0.45" stroke-linejoin="round" transform="translate(774.3 917.7) scale(0.9500 1)">10</text>
<text x="806.8" y="900.3" font-size="28" fill="#444444" stroke="#444444" stroke-width="0.45" stroke-linejoin="round">−4</text>
<text x="-3" y="0" font-size="34" fill="#444444" stroke="#444444" stroke-width="0.45" stroke-linejoin="round" transform="translate(774.3 1010.1) scale(0.9500 1)">10</text>
<text x="807.8" y="992.7" font-size="28" fill="#444444" stroke="#444444" stroke-width="0.45" stroke-linejoin="round">−6</text>
<text x="-3" y="0" font-size="34" fill="#444444" stroke="#444444" stroke-width="0.45" stroke-linejoin="round" transform="translate(855 1108.3) scale(0.9500 1)">10</text>
<text x="887.9" y="1090.6" font-size="28" fill="#444444" stroke="#444444" stroke-width="0.45" stroke-linejoin="round">−2</text>
<text x="-3" y="0" font-size="34" fill="#444444" stroke="#444444" stroke-width="0.45" stroke-linejoin="round" transform="translate(999.8 1108.3) scale(0.9500 1)">10</text>
<text x="1032.6" y="1090.6" font-size="28" fill="#444444" stroke="#444444" stroke-width="0.45" stroke-linejoin="round">−1</text>
<text x="-3" y="0" font-size="34" fill="#444444" stroke="#444444" stroke-width="0.45" stroke-linejoin="round" transform="translate(1152 1108.3) scale(0.9500 1)">10</text>
<text x="1186.7" y="1090.6" font-size="28" fill="#444444" stroke="#444444" stroke-width="0.45" stroke-linejoin="round">0</text>
<text x="-3" y="0" font-size="34" fill="#444444" stroke="#444444" stroke-width="0.45" stroke-linejoin="round" transform="translate(1296.8 1108.3) scale(0.9500 1)">10</text>
<text x="1330.5" y="1090.6" font-size="28" fill="#444444" stroke="#444444" stroke-width="0.45" stroke-linejoin="round">1</text>
<text x="-2" y="0" font-size="60" fill="#000" stroke="#000" stroke-width="0.55" stroke-linejoin="round" transform="translate(700.4 611.2) scale(1.0419 1)">(c)</text>
<text x="1186.4" y="696.4" font-size="50" font-style="italic" fill="#000" stroke="#000" stroke-width="0.75" stroke-linejoin="round">r</text>
<text x="1222.8" y="699.8" font-size="50" fill="#000" stroke="#000" stroke-width="0.55" stroke-linejoin="round">&lt;</text>
<text x="1268.1" y="696.4" font-size="50" font-style="italic" fill="#000" stroke="#000" stroke-width="0.75" stroke-linejoin="round">r</text>
<text x="1286.9" y="703.8" font-size="36" fill="#000" stroke="#000" stroke-width="0.55" stroke-linejoin="round">c</text>
<text x="1130" y="855.2" font-size="50" font-style="italic" fill="#000" stroke="#000" stroke-width="0.75" stroke-linejoin="round">r</text>
<text x="1166.2" y="859.9" font-size="50" fill="#000" stroke="#000" stroke-width="0.55" stroke-linejoin="round">&gt;</text>
<text x="1212" y="855.2" font-size="50" font-style="italic" fill="#000" stroke="#000" stroke-width="0.75" stroke-linejoin="round">r</text>
<text x="1230.8" y="862.9" font-size="36" fill="#000" stroke="#000" stroke-width="0.55" stroke-linejoin="round">c</text>
<text x="755.3" y="923.8" font-size="47" font-style="italic" font-weight="bold" fill="#000" stroke="#000" stroke-width="0.25" stroke-linejoin="round" transform="rotate(-90 755.3 923.8)">t</text>
<text x="738.4" y="907.7" font-size="34" font-style="italic" fill="#000" stroke="#000" stroke-width="0.75" stroke-linejoin="round" transform="rotate(-90 738.4 907.7)">α</text>
<text x="725.3" y="882.1" font-size="24" fill="#000" stroke="#000" stroke-width="0.55" stroke-linejoin="round" transform="rotate(-90 725.3 882.1)">TC</text>
<text x="749.9" y="884.4" font-size="24" fill="#000" stroke="#000" stroke-width="0.55" stroke-linejoin="round" transform="rotate(-90 749.9 884.4)">lim</text>
<text x="755.3" y="848.3" font-size="48" font-style="italic" fill="#000" stroke="#000" stroke-width="1.2" stroke-linejoin="round" transform="rotate(-90 755.3 848.3)">v</text>
<text x="762.2" y="826" font-size="34" fill="#000" stroke="#000" stroke-width="0.55" stroke-linejoin="round" transform="rotate(-90 762.2 826)">lim</text>
<text x="955.2" y="1164.2" font-size="47" font-style="italic" font-weight="bold" fill="#000" stroke="#000" stroke-width="0.25" stroke-linejoin="round">t</text>
<text x="969.1" y="1146.9" font-size="33" fill="#000" stroke="#000" stroke-width="0.55" stroke-linejoin="round">1</text>
<text x="987.6" y="1145" font-size="33" fill="#000" stroke="#000" stroke-width="0.55" stroke-linejoin="round">/</text>
<text x="998" y="1150.6" font-size="33" font-style="italic" fill="#000" stroke="#000" stroke-width="0.75" stroke-linejoin="round">β</text>
<text x="1016" y="1135" font-size="24" fill="#000" stroke="#000" stroke-width="0.55" stroke-linejoin="round">TC</text>
<text x="1016" y="1157.6" font-size="24" fill="#000" stroke="#000" stroke-width="0.55" stroke-linejoin="round">lim</text>
<text x="1061.5" y="1166.4" font-size="48" fill="#000" stroke="#000" stroke-width="0.55" stroke-linejoin="round">|</text>
<text x="1071.1" y="1163.5" font-size="48" font-style="italic" fill="#000" stroke="#000" stroke-width="0.75" stroke-linejoin="round">r</text>
<text x="1102" y="1168.8" font-size="48" fill="#000" stroke="#000" stroke-width="0.55" stroke-linejoin="round">−</text>
<text x="1142.5" y="1163.5" font-size="48" font-style="italic" fill="#000" stroke="#000" stroke-width="0.75" stroke-linejoin="round">r</text>
<text x="1160.1" y="1169.4" font-size="35" fill="#000" stroke="#000" stroke-width="0.55" stroke-linejoin="round">c</text>
<text x="1178" y="1166.4" font-size="48" fill="#000" stroke="#000" stroke-width="0.55" stroke-linejoin="round">|</text>
<text x="1188.5" y="1163" font-size="48" fill="#000" stroke="#000" stroke-width="0.55" stroke-linejoin="round">/</text>
<text x="1209" y="1163.5" font-size="48" font-style="italic" fill="#000" stroke="#000" stroke-width="0.75" stroke-linejoin="round">r</text>
<text x="1226.7" y="1169.4" font-size="35" fill="#000" stroke="#000" stroke-width="0.55" stroke-linejoin="round">c</text>
<defs><clipPath id="clipD"><rect x="92.5" y="668.8" width="547.8" height="419.7"/></clipPath></defs>
<g clip-path="url(#clipD)" fill="none" stroke-linejoin="round">
<path d="M92.3 709.86 L95.4 710.73 L98.15 711.59 L100.61 712.44 L102.82 713.29 L104.82 714.12 L106.63 714.95 L108.29 715.78 L109.81 716.6 L111.2 717.41 L112.49 718.23 L113.68 719.04 L114.78 719.84 L115.8 720.65 L116.75 721.45 L117.64 722.25 L118.47 723.04 L119.24 723.84 L119.96 724.63 L120.64 725.42 L121.28 726.21 L121.87 727 L122.44 727.79 L122.96 728.58 L123.46 729.36 L123.93 730.15 L124.37 730.93 L124.79 731.72 L125.18 732.5 L125.55 733.28 L125.9 734.06 L126.23 734.84 L126.55 735.62 L126.84 736.4 L127.12 737.18 L127.39 737.96 L127.64 738.73 L127.88 739.51 L128.11 740.29 L128.32 741.06 L129.4 745.73 L130.2 750.39 L130.78 755.04 L131.22 759.68 L131.54 764.32 L131.78 768.96 L131.96 773.6 L132.1 778.23 L132.2 782.87 L132.27 787.5 L132.33 792.13 L132.37 796.76 L132.4 801.4 L132.43 806.03 L132.45 810.66 L132.46 815.29 L132.47 819.92 L132.48 824.55 L132.48 829.18 L132.49 833.81 L132.49 838.44 L132.49 843.07 L132.49 847.7 L132.5 852.33 L132.5 856.96 L132.5 861.59 L132.5 866.22 L132.5 870.85 L132.5 872.4 L132.5 872.4 L132.5 872.4 L132.5 872.4 L132.5 871.71 L132.5 867.08 L132.5 862.45 L132.51 857.82 L132.51 853.19 L132.51 848.56 L132.51 843.93 L132.52 839.31 L132.52 834.68 L132.53 830.05 L132.54 825.43 L132.55 820.81 L132.57 816.19 L132.6 811.57 L132.63 806.96 L132.67 802.36 L132.73 797.76 L132.8 793.18 L132.9 788.61 L133.03 784.06 L133.21 779.54 L133.44 775.05 L133.74 770.61 L134.15 766.23 L134.68 761.93 L135.37 757.73 L136.28 753.66 L136.54 752.69 L136.82 751.73 L137.11 750.78 L137.42 749.85 L137.76 748.93 L138.11 748.02 L138.49 747.12 L138.89 746.24 L139.32 745.37 L139.77 744.52 L140.24 743.69 L140.75 742.88 L141.28 742.09 L141.85 741.31 L142.45 740.56 L143.08 739.83 L143.75 739.12 L144.45 738.43 L145.19 737.77 L145.97 737.14 L146.78 736.53 L147.64 735.95 L148.54 735.39 L149.49 734.87 L150.47 734.38 L151.51 733.91 L152.58 733.48 L153.71 733.08 L154.88 732.71 L156.1 732.38 L157.37 732.08 L158.68 731.81 L160.04 731.58 L161.45 731.39 L162.91 731.23 L164.42 731.1 L165.98 731.01 L167.58 730.96 L169.23 730.94 L170.93 730.96 L172.67 731.02 L174.45 731.11 L176.28 731.24 L178.16 731.4 L180.07 731.6 L182.03 731.83 L184.02 732.09 L186.06 732.39 L188.13 732.72 L190.24 733.09 L192.38 733.49 L194.55 733.92 L196.76 734.37 L199 734.86 L201.26 735.38 L203.56 735.93 L205.88 736.51 L208.23 737.12 L210.6 737.75 L212.38 738.26 L214.89 739.32 L217.84 740.57 L220.93 741.9 L223.85 743.22 L226.3 744.4 L228.28 745.45 L230.04 746.44 L231.63 747.41 L233.11 748.39 L234.55 749.41 L236 750.5 L237.44 751.66 L238.81 752.87 L240.14 754.12 L241.43 755.41 L242.72 756.74 L244 758.1 L245.28 759.47 L246.56 760.86 L247.81 762.28 L249.06 763.76 L250.28 765.32 L251.5 767 L252.69 768.77 L253.87 770.61 L255.03 772.53 L256.18 774.56 L257.33 776.71 L258.5 779 L259.7 781.52 L260.94 784.26 L262.18 787.13 L263.39 790.01 L264.54 792.81 L265.6 795.4 L266.55 797.79 L267.41 800.05 L268.22 802.22 L268.99 804.34 L269.74 806.42 L270.5 808.5 L271.26 810.58 L272 812.64 L272.73 814.67 L273.45 816.67 L274.17 818.61 L274.9 820.5 L275.64 822.37 L276.37 824.24 L277.11 826.06 L277.85 827.79 L278.58 829.39 L279.3 830.8 L280.01 832.01 L280.7 833.05 L281.38 833.95 L282.07 834.75 L282.77 835.49 L283.5 836.2 L284.23 836.87 L284.95 837.46 L285.69 837.98 L286.46 838.46 L287.29 838.89 L288.2 839.3 L289.18 839.67 L290.21 839.98 L291.29 840.25 L292.45 840.5 L293.68 840.74 L295 841 L296.27 841.22 L297.44 841.38 L298.69 841.53 L300.19 841.73 L302.11 842.04 L304.6 842.5 L307.85 843.14 L311.74 843.9 L316.06 844.77 L320.54 845.72 L324.97 846.7 L329.1 847.7 L332.97 848.71 L336.78 849.77 L340.53 850.87 L344.22 852.01 L347.84 853.18 L351.4 854.4 L354.91 855.67 L358.37 857.01 L361.77 858.39 L365.09 859.78 L368.3 861.16 L371.4 862.5 L374.29 863.78 L376.97 865 L379.55 866.22 L382.14 867.46 L384.85 868.78 L387.8 870.2 L391.05 871.77 L394.52 873.46 L398.11 875.23 L401.73 877 L405.26 878.75 L408.6 880.4 L411.79 881.97 L414.91 883.5 L417.95 884.99 L420.89 886.45 L423.71 887.88 L426.4 889.3 L429.07 890.78 L431.75 892.33 L434.31 893.86 L436.63 895.26 L438.57 896.44 L440 897.3 L450 903.31 L460 909.31 L470 915.32 L480 921.32 L490 927.33 L500 933.34 L510 939.34 L520 945.35 L530 951.35 L540 957.36 L550 963.37 L560 969.37 L570 975.38 L580 981.38 L590 987.39 L600 993.4 L610 999.4 L620 1005.41 L630 1011.41 L640 1017.42 L640.3 1017.6" stroke="#000" stroke-width="4.9"/>
<path d="M92.5 700.3 L94.03 700.89 L96.16 701.72 L98.67 702.69 L101.34 703.73 L103.96 704.72 L106.3 705.6 L108.38 706.35 L110.39 707.06 L112.34 707.73 L114.24 708.38 L116.13 709.03 L118 709.7 L119.86 710.37 L121.71 711.01 L123.53 711.66 L125.31 712.33 L127.07 713.04 L128.8 713.8 L130.47 714.63 L132.09 715.5 L133.68 716.41 L135.26 717.36 L136.86 718.32 L138.5 719.3 L140.22 720.34 L142.03 721.46 L143.84 722.61 L145.62 723.71 L147.29 724.73 L148.8 725.6 L150.1 726.3 L151.21 726.87 L152.23 727.36 L153.22 727.78 L154.25 728.18 L155.4 728.6 L156.66 729.03 L157.96 729.45 L159.31 729.84 L160.7 730.21 L162.13 730.53 L163.6 730.8 L165.24 731.01 L167.08 731.17 L168.96 731.29 L170.73 731.37 L172.23 731.44 L173.3 731.5 L174.45 731.11 L176.28 731.24 L178.16 731.4 L180.07 731.6 L182.03 731.83 L184.02 732.09 L186.06 732.39 L188.13 732.72 L190.24 733.09 L192.38 733.49 L194.55 733.92 L196.76 734.37 L199 734.86 L201.26 735.38 L203.56 735.93 L205.88 736.51 L208.23 737.12 L210.6 737.75 L212.38 738.26 L214.89 739.32 L217.84 740.57 L220.93 741.9 L223.85 743.22 L226.3 744.4 L228.28 745.45 L230.04 746.44 L231.63 747.41 L233.11 748.39 L234.55 749.41 L236 750.5 L237.44 751.66 L238.81 752.87 L240.14 754.12 L241.43 755.41 L242.72 756.74 L244 758.1 L245.28 759.47 L246.56 760.86 L247.81 762.28 L249.06 763.76 L250.28 765.32 L251.5 767 L252.69 768.77 L253.87 770.61 L255.03 772.53 L256.18 774.56 L257.33 776.71 L258.5 779 L259.7 781.52 L260.94 784.26 L262.18 787.13 L263.39 790.01 L264.54 792.81 L265.6 795.4 L266.55 797.79 L267.41 800.05 L268.22 802.22 L268.99 804.34 L269.74 806.42 L270.5 808.5 L271.26 810.58 L272 812.64 L272.73 814.67 L273.45 816.67 L274.17 818.61 L274.9 820.5 L275.64 822.37 L276.37 824.24 L277.11 826.06 L277.85 827.79 L278.58 829.39 L279.3 830.8 L280.01 832.01 L280.7 833.05 L281.38 833.95 L282.07 834.75 L282.77 835.49 L283.5 836.2 L284.23 836.87 L284.95 837.46 L285.69 837.98 L286.46 838.46 L287.29 838.89 L288.2 839.3 L289.18 839.67 L290.21 839.98 L291.29 840.25 L292.45 840.5 L293.68 840.74 L295 841 L296.27 841.22 L297.44 841.38 L298.69 841.53 L300.19 841.73 L302.11 842.04 L304.6 842.5 L307.85 843.14 L311.74 843.9 L316.06 844.77 L320.54 845.72 L324.97 846.7 L329.1 847.7 L332.97 848.71 L336.78 849.77 L340.53 850.87 L344.22 852.01 L347.84 853.18 L351.4 854.4 L354.91 855.67 L358.37 857.01 L361.77 858.39 L365.09 859.78 L368.3 861.16 L371.4 862.5 L374.29 863.78 L376.97 865 L379.55 866.22 L382.14 867.46 L384.85 868.78 L387.8 870.2 L391.05 871.77 L394.52 873.46 L398.11 875.23 L401.73 877 L405.26 878.75 L408.6 880.4 L411.79 881.97 L414.91 883.5 L417.95 884.99 L420.89 886.45 L423.71 887.88 L426.4 889.3 L429.07 890.78 L431.75 892.33 L434.31 893.86 L436.63 895.26 L438.57 896.44 L440 897.3 L450 903.31 L460 909.31 L470 915.32 L480 921.32 L490 927.33 L500 933.34 L510 939.34 L520 945.35 L530 951.35 L540 957.36 L550 963.37 L560 969.37 L570 975.38 L580 981.38 L590 987.39 L600 993.4 L610 999.4 L620 1005.41 L630 1011.41 L640 1017.42 L640.3 1017.6" stroke="#ea3324" stroke-width="5.1" stroke-dasharray="40.3 23.73"/>
<path d="M501.9 915.8 L636 996.4" stroke="#ea3324" stroke-width="5" stroke-dasharray="5 9.9"/>
</g>
<rect x="92.5" y="668.8" width="547.8" height="419.7" fill="none" stroke="#333333" stroke-width="1.3"/>
<line x1="92.5" y1="716.9" x2="97.5" y2="716.9" stroke="#333333" stroke-width="1.3"/>
<line x1="92.5" y1="903.4" x2="97.5" y2="903.4" stroke="#333333" stroke-width="1.3"/>
<line x1="183.8" y1="1088.5" x2="183.8" y2="1083" stroke="#333333" stroke-width="1.3"/>
<line x1="275.1" y1="1088.5" x2="275.1" y2="1083" stroke="#333333" stroke-width="1.3"/>
<line x1="366.4" y1="1088.5" x2="366.4" y2="1083" stroke="#333333" stroke-width="1.3"/>
<line x1="457.7" y1="1088.5" x2="457.7" y2="1083" stroke="#333333" stroke-width="1.3"/>
<line x1="549" y1="1088.5" x2="549" y2="1083" stroke="#333333" stroke-width="1.3"/>
<text x="-2" y="0" font-size="31" fill="#444444" stroke="#444444" stroke-width="0.45" stroke-linejoin="round" transform="translate(37.1 731.5) scale(0.8786 1)">10</text>
<text x="66.6" y="713.7" font-size="25" fill="#444444" stroke="#444444" stroke-width="0.45" stroke-linejoin="round">0</text>
<text x="-2" y="0" font-size="31" fill="#444444" stroke="#444444" stroke-width="0.45" stroke-linejoin="round" transform="translate(26.3 917.9) scale(0.8786 1)">10</text>
<text x="55.3" y="900" font-size="25" fill="#444444" stroke="#444444" stroke-width="0.45" stroke-linejoin="round">−5</text>
<text x="-2" y="0" font-size="31" fill="#444444" stroke="#444444" stroke-width="0.45" stroke-linejoin="round" transform="translate(12.6 1102.8) scale(0.8929 1)">10</text>
<text x="43.2" y="1085.2" font-size="25" fill="#444444" letter-spacing="-1" stroke="#444444" stroke-width="0.45" stroke-linejoin="round">−10</text>
<text x="-2" y="0" font-size="31" fill="#444444" stroke="#444444" stroke-width="0.45" stroke-linejoin="round" transform="translate(65.7 1131.4) scale(0.8857 1)">10</text>
<text x="95" y="1115" font-size="25" fill="#444444" stroke="#444444" stroke-width="0.45" stroke-linejoin="round">−1</text>
<text x="-2" y="0" font-size="31" fill="#444444" stroke="#444444" stroke-width="0.45" stroke-linejoin="round" transform="translate(161.7 1131.4) scale(0.8857 1)">10</text>
<text x="192.2" y="1115" font-size="25" fill="#444444" stroke="#444444" stroke-width="0.45" stroke-linejoin="round">0</text>
<text x="-2" y="0" font-size="31" fill="#444444" stroke="#444444" stroke-width="0.45" stroke-linejoin="round" transform="translate(253.9 1131.4) scale(0.8857 1)">10</text>
<text x="280.9" y="1115" font-size="25" fill="#444444" stroke="#444444" stroke-width="0.45" stroke-linejoin="round">1</text>
<text x="-2" y="0" font-size="31" fill="#444444" stroke="#444444" stroke-width="0.45" stroke-linejoin="round" transform="translate(344.3 1131.4) scale(0.8857 1)">10</text>
<text x="374.1" y="1115" font-size="25" fill="#444444" stroke="#444444" stroke-width="0.45" stroke-linejoin="round">2</text>
<text x="-2" y="0" font-size="31" fill="#444444" stroke="#444444" stroke-width="0.45" stroke-linejoin="round" transform="translate(435.6 1131.4) scale(0.8857 1)">10</text>
<text x="465.4" y="1115" font-size="25" fill="#444444" stroke="#444444" stroke-width="0.45" stroke-linejoin="round">3</text>
<text x="-2" y="0" font-size="31" fill="#444444" stroke="#444444" stroke-width="0.45" stroke-linejoin="round" transform="translate(526.9 1131.4) scale(0.8857 1)">10</text>
<text x="557.7" y="1115" font-size="25" fill="#444444" stroke="#444444" stroke-width="0.45" stroke-linejoin="round">4</text>
<text x="-2" y="0" font-size="31" fill="#444444" stroke="#444444" stroke-width="0.45" stroke-linejoin="round" transform="translate(618.2 1131.4) scale(0.8857 1)">10</text>
<text x="648" y="1115" font-size="25" fill="#444444" stroke="#444444" stroke-width="0.45" stroke-linejoin="round">5</text>
<text x="361.2" y="1172.2" font-size="48" font-style="italic" font-weight="bold" fill="#000" stroke="#000" stroke-width="0.25" stroke-linejoin="round">t</text>
<text x="-2" y="0" font-size="60" fill="#000" stroke="#000" stroke-width="0.55" stroke-linejoin="round" transform="translate(0 656.3) scale(1.0470 1)">(d)</text>
<text x="549.7" y="718.9" font-size="50" fill="#000" stroke="#000" stroke-width="0.55" stroke-linejoin="round">SIR</text>
<text x="153.7" y="709.1" font-size="44" font-style="italic" fill="#ea3324" stroke="#ea3324" stroke-width="0.75" stroke-linejoin="round">v</text>
<text x="175.3" y="716.9" font-size="32" fill="#ea3324" stroke="#ea3324" stroke-width="0.55" stroke-linejoin="round">lim</text>
<text x="141.9" y="815.1" font-size="44" font-style="italic" fill="#000" stroke="#000" stroke-width="0.75" stroke-linejoin="round">v</text>
<text x="164.5" y="821.9" font-size="32" font-style="italic" fill="#000" stroke="#000" stroke-width="0.75" stroke-linejoin="round">I</text>
<text x="496.9" y="914.3" font-size="48" fill="#ea3324" stroke="#ea3324" stroke-width="0.55" stroke-linejoin="round">~</text>
<text x="539.3" y="911.8" font-size="41" font-style="italic" fill="#ea3324" stroke="#ea3324" stroke-width="0.75" stroke-linejoin="round">t</text>
<text x="555.3" y="894.6" font-size="34.5" fill="#ea3324" stroke="#ea3324" stroke-width="0.55" stroke-linejoin="round">−</text>
<text x="576.8" y="894" font-size="34.5" fill="#ea3324" stroke="#ea3324" stroke-width="0.55" stroke-linejoin="round">3</text>
<text x="595.3" y="893.4" font-size="34.5" fill="#ea3324" stroke="#ea3324" stroke-width="0.55" stroke-linejoin="round">/</text>
<text x="606.5" y="892.7" font-size="34.5" fill="#ea3324" stroke="#ea3324" stroke-width="0.55" stroke-linejoin="round">2</text>
</g>
</svg>
</body></html>
